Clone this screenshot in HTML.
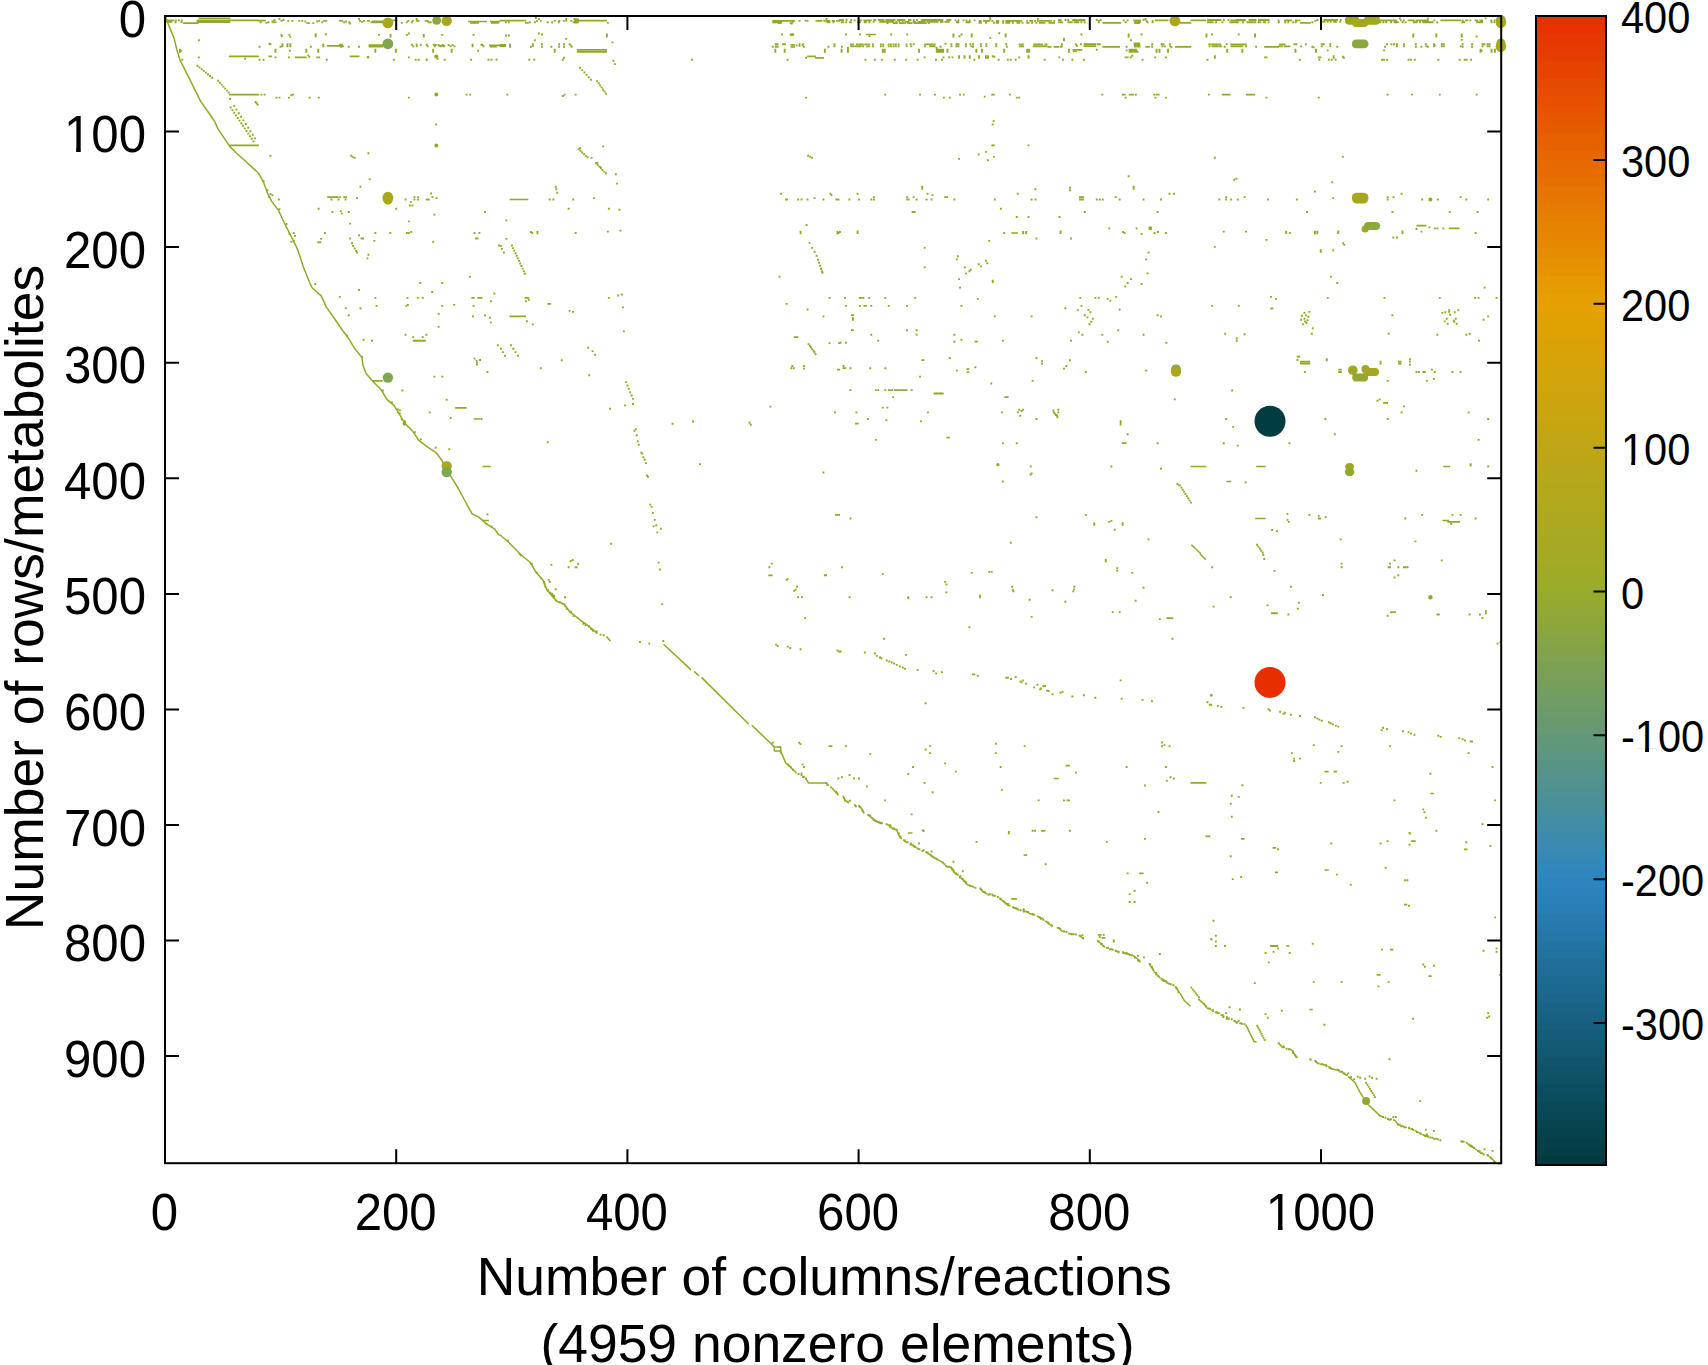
<!DOCTYPE html><html lang="en"><head><meta charset="utf-8"><title>Sparsity plot</title>
<style>html,body{margin:0;padding:0;background:#fff}body{width:1708px;height:1365px;overflow:hidden}svg{display:block}text{font-family:"Liberation Sans",sans-serif;fill:#000}</style></head><body>
<svg width="1708" height="1365" viewBox="0 0 1708 1365">
<rect width="1708" height="1365" fill="#fff"/>
<path d="M198.6 18.4H230.3M196.6 20.5H230.3M196.6 21.3H230.3M196.6 22.1H230.3M165.6 20.4H174.3M165.6 21.9H172.3M183.1 23.1H198.6M229.3 20.4H258.9M258.1 20.6H265.9M370.6 22.3H384.3M371.6 21.3H383.4M468.1 21.5H486.9M470.1 22.9H478.9M490.0 21.5H500.0M491.0 22.9H498.8M388.5 20.4H397.3M326.8 45.8H342.5M368.6 45.0H383.4M368.6 46.6H383.4M438.3 45.8H445.1M489.0 45.4H500.0M490.0 46.6H496.8M228.9 56.4H258.9M295.0 57.4H306.7M349.7 56.4H359.5M228.9 94.6H258.9M228.9 145.4H258.9M327.2 197.1H338.6M499.6 20.6H526.3M574.2 20.6H606.9M573.7 19.4H579.0M573.7 21.7H579.0M574.2 22.7H578.4M772.3 20.9H795.0M772.3 22.3H782.1M499.6 44.8H506.0M499.6 46.2H506.0M576.8 49.8H606.9M576.8 51.8H606.9M790.6 44.8H795.0M790.6 46.8H795.0M807.2 56.4H815.9M815.1 57.8H823.9M509.6 199.5H528.3M1072.5 20.4H1084.3M1102.4 22.9H1121.1M1133.2 20.4H1141.0M1134.2 21.9H1141.0M1134.2 23.1H1140.0M866.1 34.5H875.8M1047.6 46.8H1051.4M1053.6 46.8H1059.4M1083.5 44.2H1096.2M1083.5 46.2H1096.2M1102.4 46.8H1120.1M1145.2 46.8H1149.9M1175.0 46.8H1180.0M1072.5 49.8H1082.3M1011.2 233.0H1018.0M1179.6 22.9H1191.3M1190.5 20.4H1206.3M1230.4 20.4H1246.1M1300.0 22.9H1310.8M1440.4 20.4H1461.1M1179.6 46.8H1191.3M1264.2 46.8H1278.9M1221.8 94.6H1230.6M1245.9 94.6H1255.0M1416.5 225.6H1426.2M1448.7 228.4H1459.5M455.2 407.8H466.6M473.7 419.0H479.9M482.5 466.5H490.8M482.1 520.5H488.9M509.6 316.4H525.9M524.5 297.9H529.3M547.4 303.9H551.2M793.8 337.1H798.4M835.0 514.9H840.0M837.0 369.6H840.0M858.9 297.9H864.3M863.5 305.9H866.9M850.9 315.2H853.9M850.9 330.2H853.9M974.4 341.7H977.8M921.2 360.2H924.4M842.6 368.2H846.0M966.4 369.2H969.4M966.4 372.0H969.4M1004.4 397.1H1008.6M855.1 423.7H858.7M1121.9 443.2H1126.5M946.5 437.7H949.9M1190.5 466.5H1206.3M1256.2 466.5H1265.6M1443.4 466.5H1450.1M1255.2 518.5H1265.6M1226.4 481.5H1231.2M1300.0 361.6H1310.2M1300.0 363.6H1310.2M1296.6 356.6H1300.2M1383.2 402.8H1388.0M1442.4 520.5H1449.1M1447.3 521.9H1460.1M1270.2 308.3H1273.4M768.3 575.3H772.7M887.4 825.1H891.2M1065.5 765.6H1069.9M1053.6 778.5H1058.8M1066.5 800.4H1069.9M1190.5 782.9H1206.3M1324.5 771.6H1328.7M1333.5 771.6H1337.1M1430.4 793.5H1433.8M907.9 833.0H912.5M1041.1 830.8H1045.4M1023.7 855.1H1027.1M1139.2 873.4H1143.6M1011.2 898.9H1017.0M1205.5 836.4H1210.3M1240.9 838.9H1244.5M1411.1 841.1H1415.7M1463.9 849.3H1467.4M1324.5 870.0H1328.7M1274.8 872.4H1277.9M1403.9 904.6H1407.3M1286.1 946.0H1289.5M1390.0 949.6H1393.4M1376.7 974.9H1380.5M1428.4 976.1H1431.6M1309.4 1009.5H1312.8" fill="none" stroke="#95a826" stroke-width="1.70"/>
<polyline points="165.6,17.0 169.0,25.9 173.9,37.9 176.9,49.8 179.9,59.8 187.9,75.7 194.8,89.6 200.8,101.6 207.8,111.5 214.7,121.5 217.7,128.4 223.7,137.4 229.7,146.4 236.6,153.3 245.6,161.3 258.5,173.2 263.5,182.2 267.5,193.1 271.5,201.1 278.4,210.1 282.4,219.0 287.4,229.0 292.4,238.9 297.4,248.9 303.3,266.8 309.3,281.7" fill="none" stroke="#95a826" stroke-width="1.50" stroke-linejoin="round"/>
<polyline points="309.3,282.0 312.3,288.0 321.2,295.9 326.2,306.9 335.2,319.8 342.1,329.8 348.1,337.7 354.1,347.7 362.0,357.6 363.0,365.6 366.0,373.6 373.0,381.5 381.0,389.5 386.9,399.4 393.9,405.4 398.9,413.4 404.8,423.3 412.8,431.3 418.8,440.3 427.7,447.2 436.7,453.2 441.7,460.2 446.7,470.1 452.6,479.1 458.6,489.0 465.6,502.0 472.1,513.9 478.5,516.9 486.5,523.9 494.4,528.8 499.6,535.8" fill="none" stroke="#95a826" stroke-width="1.50" stroke-linejoin="round"/>
<polyline points="500.0,534.8 508.0,541.8 519.9,553.7" fill="none" stroke="#95a826" stroke-width="1.50" stroke-linejoin="round"/>
<polyline points="1191.3,544.8 1200.9,553.7" fill="none" stroke="#95a826" stroke-width="1.50" stroke-linejoin="round"/>
<polyline points="519.9,554.0 529.9,562.0 535.8,571.9 542.8,579.9 546.8,589.8 553.7,597.8 557.7,601.8 563.7,603.8 569.7,611.7 579.6,619.7 589.6,626.7 597.5,633.6" fill="none" stroke="#95a826" stroke-width="1.50" stroke-linejoin="round"/>
<polyline points="606.5,636.6 610.5,641.2" fill="none" stroke="#95a826" stroke-width="1.50" stroke-linejoin="round"/>
<polyline points="663.6,644.2 691.1,669.9" fill="none" stroke="#95a826" stroke-width="1.50" stroke-linejoin="round"/>
<polyline points="694.1,671.4 699.1,675.8" fill="none" stroke="#95a826" stroke-width="1.50" stroke-linejoin="round"/>
<polyline points="701.5,677.4 748.8,724.2" fill="none" stroke="#95a826" stroke-width="1.50" stroke-linejoin="round"/>
<polyline points="751.8,725.2 774.7,747.1" fill="none" stroke="#95a826" stroke-width="1.50" stroke-linejoin="round"/>
<polyline points="773.7,747.1 780.7,747.1 780.7,751.1 774.3,751.1 774.3,747.1" fill="none" stroke="#95a826" stroke-width="1.50" stroke-linejoin="round"/>
<polyline points="780.7,751.1 785.7,763.0 796.6,773.0" fill="none" stroke="#95a826" stroke-width="1.50" stroke-linejoin="round"/>
<polyline points="805.2,777.9 808.5,782.9 826.5,782.9 828.5,785.9" fill="none" stroke="#95a826" stroke-width="1.50" stroke-linejoin="round"/>
<polyline points="832.0,787.9 838.4,795.3" fill="none" stroke="#95a826" stroke-width="1.50" stroke-linejoin="round"/>
<polyline points="843.0,795.9 845.0,800.4 849.0,802.8" fill="none" stroke="#95a826" stroke-width="1.50" stroke-linejoin="round"/>
<polyline points="858.9,806.4 861.5,808.4 863.5,812.4" fill="none" stroke="#95a826" stroke-width="1.50" stroke-linejoin="round"/>
<polyline points="867.5,814.4 871.9,817.8 874.8,820.7 882.8,823.7" fill="none" stroke="#95a826" stroke-width="1.50" stroke-linejoin="round"/>
<polyline points="1199.9,554.0 1205.9,559.6" fill="none" stroke="#95a826" stroke-width="1.50" stroke-linejoin="round"/>
<polyline points="888.8,826.6 896.7,830.0 898.7,835.0 901.7,838.9" fill="none" stroke="#95a826" stroke-width="1.50" stroke-linejoin="round"/>
<polyline points="914.1,846.3 916.6,847.9" fill="none" stroke="#95a826" stroke-width="1.50" stroke-linejoin="round"/>
<polyline points="933.6,857.3 943.5,862.8" fill="none" stroke="#95a826" stroke-width="1.50" stroke-linejoin="round"/>
<polyline points="947.5,866.8 951.5,867.4 954.5,872.8 957.4,874.8" fill="none" stroke="#95a826" stroke-width="1.50" stroke-linejoin="round"/>
<polyline points="961.8,878.2 967.4,884.7 974.4,887.3" fill="none" stroke="#95a826" stroke-width="1.50" stroke-linejoin="round"/>
<polyline points="980.3,888.7 983.3,891.7 987.3,894.1" fill="none" stroke="#95a826" stroke-width="1.50" stroke-linejoin="round"/>
<polyline points="999.3,898.1 1004.2,902.0" fill="none" stroke="#95a826" stroke-width="1.50" stroke-linejoin="round"/>
<polyline points="1013.2,907.2 1019.2,910.0" fill="none" stroke="#95a826" stroke-width="1.50" stroke-linejoin="round"/>
<polyline points="1028.7,913.2 1034.1,915.0" fill="none" stroke="#95a826" stroke-width="1.50" stroke-linejoin="round"/>
<polyline points="1037.1,916.0 1041.1,918.6 1043.4,918.0" fill="none" stroke="#95a826" stroke-width="1.50" stroke-linejoin="round"/>
<polyline points="1046.0,921.2 1051.0,925.5" fill="none" stroke="#95a826" stroke-width="1.50" stroke-linejoin="round"/>
<polyline points="1058.0,927.5 1062.0,931.1 1064.9,931.9" fill="none" stroke="#95a826" stroke-width="1.50" stroke-linejoin="round"/>
<polyline points="1078.9,935.1 1083.9,939.1" fill="none" stroke="#95a826" stroke-width="1.50" stroke-linejoin="round"/>
<polyline points="1096.8,940.5 1100.8,943.4 1104.8,947.4" fill="none" stroke="#95a826" stroke-width="1.50" stroke-linejoin="round"/>
<polyline points="1133.0,955.4 1137.6,959.0 1140.2,962.4" fill="none" stroke="#95a826" stroke-width="1.50" stroke-linejoin="round"/>
<polyline points="1149.1,963.4 1155.5,973.3 1160.5,978.3" fill="none" stroke="#95a826" stroke-width="1.50" stroke-linejoin="round"/>
<polyline points="1175.4,986.2 1179.6,993.2" fill="none" stroke="#95a826" stroke-width="1.50" stroke-linejoin="round"/>
<polyline points="1180.0,993.2 1184.0,1000.2 1190.4,1006.2" fill="none" stroke="#95a826" stroke-width="1.50" stroke-linejoin="round"/>
<polyline points="1198.9,999.2 1206.9,1007.1" fill="none" stroke="#95a826" stroke-width="1.50" stroke-linejoin="round"/>
<polyline points="1233.7,1020.1 1236.7,1022.7 1239.7,1020.1" fill="none" stroke="#95a826" stroke-width="1.50" stroke-linejoin="round"/>
<polyline points="1245.7,1024.7 1254.1,1041.6 1256.6,1042.0" fill="none" stroke="#95a826" stroke-width="1.50" stroke-linejoin="round"/>
<polyline points="1278.5,1043.0 1282.5,1047.4 1284.5,1045.6" fill="none" stroke="#95a826" stroke-width="1.50" stroke-linejoin="round"/>
<polyline points="1291.9,1050.5 1297.4,1057.9" fill="none" stroke="#95a826" stroke-width="1.50" stroke-linejoin="round"/>
<polyline points="1328.3,1066.5 1332.3,1068.9 1339.3,1070.4" fill="none" stroke="#95a826" stroke-width="1.50" stroke-linejoin="round"/>
<polyline points="1344.2,1073.8 1346.8,1075.2 1348.8,1072.4" fill="none" stroke="#95a826" stroke-width="1.50" stroke-linejoin="round"/>
<polyline points="1348.2,1076.4 1355.2,1082.8 1359.2,1090.8 1363.1,1097.1" fill="none" stroke="#95a826" stroke-width="1.50" stroke-linejoin="round"/>
<polyline points="1363.1,1097.5 1366.1,1101.5" fill="none" stroke="#95a826" stroke-width="1.50" stroke-linejoin="round"/>
<polyline points="1368.1,1104.5 1380.1,1115.9" fill="none" stroke="#95a826" stroke-width="1.50" stroke-linejoin="round"/>
<polyline points="1395.0,1120.4 1398.0,1124.4 1402.0,1126.4" fill="none" stroke="#95a826" stroke-width="1.50" stroke-linejoin="round"/>
<polyline points="1414.9,1130.4 1421.9,1134.4" fill="none" stroke="#95a826" stroke-width="1.50" stroke-linejoin="round"/>
<polyline points="1425.2,1135.8 1428.8,1137.0" fill="none" stroke="#95a826" stroke-width="1.50" stroke-linejoin="round"/>
<polyline points="1461.3,1141.3 1464.7,1141.7" fill="none" stroke="#95a826" stroke-width="1.50" stroke-linejoin="round"/>
<polyline points="1469.6,1144.9 1474.6,1148.3" fill="none" stroke="#95a826" stroke-width="1.50" stroke-linejoin="round"/>
<polyline points="1490.5,1157.3 1495.5,1162.2" fill="none" stroke="#95a826" stroke-width="1.50" stroke-linejoin="round"/>
<path d="M175.0 20.4h1.9M178.0 20.4h1.9M180.9 20.4h1.9M174.6 22.3h1.9M180.5 22.3h1.9M259.6 22.3h1.9M265.5 22.9h1.9M267.5 22.3h1.9M271.5 21.5h1.9M273.5 20.0h1.9M274.5 22.3h1.9M272.5 22.3h1.9M278.5 19.0h1.9M280.5 20.9h1.9M282.5 20.0h1.9M287.4 20.9h1.9M291.4 20.9h1.9M298.4 20.9h1.9M301.4 20.9h1.9M304.4 21.5h1.9M306.4 23.1h1.9M307.9 23.1h1.9M312.3 23.1h1.9M316.3 21.5h1.9M318.3 20.9h1.9M321.3 22.3h1.9M323.3 20.9h1.9M325.3 20.9h1.9M339.2 20.9h1.9M341.2 20.9h1.9M343.2 22.3h1.9M345.2 21.5h1.9M348.2 22.3h1.9M349.2 23.5h1.9M358.1 19.0h1.9M359.1 20.9h1.9M361.1 21.9h1.9M363.1 20.9h1.9M367.1 20.9h1.9M368.1 20.9h1.9M400.9 22.9h1.9M405.9 22.3h1.9M407.5 20.9h1.9M410.9 22.3h1.9M411.9 20.9h1.9M415.8 19.0h1.9M415.8 20.9h1.9M417.8 20.9h1.9M424.8 20.9h1.9M426.8 20.9h1.9M427.8 22.3h1.9M429.8 22.3h1.9M322.3 44.8h1.9M322.3 46.4h1.9M339.2 44.8h1.9M341.2 44.8h1.9M342.2 46.4h1.9M340.2 46.8h1.9M410.9 44.8h1.9M412.3 46.4h1.9M415.8 44.8h1.9M415.8 46.4h1.9M419.8 44.8h1.9M425.8 44.8h1.9M426.8 46.4h1.9M432.8 44.8h1.9M433.8 46.4h1.9M434.8 45.0h1.9M437.7 45.0h1.9M439.7 46.4h1.9M441.7 45.0h1.9M442.7 46.4h1.9M447.7 45.0h1.9M449.7 46.4h1.9M451.7 45.0h1.9M453.7 46.4h1.9M471.6 44.8h1.9M471.6 46.4h1.9M480.5 44.8h1.9M482.5 46.4h1.9M481.5 45.0h1.9M244.2 58.8h1.9M258.6 59.8h1.9M262.6 59.8h1.9M268.5 56.4h1.9M270.1 56.4h1.9M274.5 57.4h1.9M288.0 57.4h1.9M307.4 55.4h1.9M308.3 56.8h1.9M316.3 57.4h1.9M318.3 57.4h1.9M325.9 59.8h1.9M392.9 59.8h1.9M407.9 57.4h1.9M414.8 59.8h1.9M417.8 59.8h1.9M436.7 58.8h1.9M443.7 59.8h1.9M470.2 59.8h1.9M487.5 59.8h1.9M490.5 59.8h1.9M495.5 59.8h1.9M260.6 94.6h1.9M263.6 94.6h1.9M275.5 97.6h1.9M278.5 97.6h1.9M288.0 97.6h1.9M290.4 95.2h1.9M292.0 94.6h1.9M308.7 97.6h1.9M317.9 97.6h1.9M407.9 97.6h1.9M465.6 94.6h1.9M469.2 94.6h1.9M229.1 99.0h1.9M254.6 102.0h1.9M256.6 104.6h1.9M255.6 103.2h1.9M196.5 65.7h1.9M198.6 67.4h1.9M200.7 69.2h1.9M202.8 70.9h1.9M204.9 72.6h1.9M207.0 74.3h1.9M209.1 76.0h1.9M211.2 77.7h1.9M217.2 80.7h1.9M218.9 82.7h1.9M220.7 84.6h1.9M222.5 86.6h1.9M224.2 88.6h1.9M226.0 90.6h1.9M227.7 92.6h1.9M229.7 107.5h1.9M231.5 110.1h1.9M233.2 112.7h1.9M235.0 115.4h1.9M236.8 118.0h1.9M238.5 120.6h1.9M240.3 123.2h1.9M242.0 125.8h1.9M243.8 128.4h1.9M245.6 131.0h1.9M247.3 133.6h1.9M249.1 136.2h1.9M250.8 138.8h1.9M252.6 141.4h1.9M233.1 105.9h1.9M235.4 109.6h1.9M237.8 113.2h1.9M240.1 116.8h1.9M242.5 120.4h1.9M244.8 124.0h1.9M247.2 127.6h1.9M249.5 131.2h1.9M251.9 134.8h1.9M254.2 138.4h1.9M197.9 40.3h1.9M197.9 57.4h1.9M180.0 50.8h1.9M179.0 49.8h1.9M179.0 51.8h1.9M181.3 59.8h1.9M280.5 34.9h1.9M280.9 36.3h1.9M288.4 34.9h1.9M289.4 36.9h1.9M314.7 34.3h1.9M314.7 36.3h1.9M324.9 34.3h1.9M378.0 34.9h1.9M389.6 34.9h1.9M389.6 36.5h1.9M405.9 34.9h1.9M407.9 33.5h1.9M422.8 34.9h1.9M422.8 36.5h1.9M441.3 34.9h1.9M472.6 34.9h1.9M258.6 46.8h1.9M268.5 43.8h1.9M269.5 44.2h1.9M274.5 49.8h1.9M274.5 51.8h1.9M279.5 46.8h1.9M281.5 44.2h1.9M281.5 46.2h1.9M286.5 44.2h1.9M286.5 46.2h1.9M289.4 44.2h1.9M289.4 46.2h1.9M288.8 50.8h1.9M305.4 49.8h1.9M305.4 51.8h1.9M309.9 46.8h1.9M317.3 49.8h1.9M317.3 51.8h1.9M347.8 46.8h1.9M358.1 46.8h1.9M374.4 49.8h1.9M374.4 51.8h1.9M394.9 49.8h1.9M394.9 51.8h1.9M432.2 49.8h1.9M432.2 51.8h1.9M450.7 49.8h1.9M450.7 51.8h1.9M477.2 50.8h1.9M269.5 155.7h1.9M350.2 155.7h1.9M351.7 156.9h1.9M353.7 157.9h1.9M367.5 153.3h1.9M368.7 179.2h1.9M359.5 186.8h1.9M435.3 124.5h1.9M339.2 197.1h1.9M343.2 197.1h1.9M345.2 197.1h1.9M330.6 199.5h1.9M337.6 199.5h1.9M344.6 199.5h1.9M356.1 198.1h1.9M404.5 199.5h1.9M409.9 202.1h1.9M413.5 197.1h1.9M413.5 199.5h1.9M417.2 197.1h1.9M417.2 199.5h1.9M408.9 205.5h1.9M411.5 205.5h1.9M425.8 199.5h1.9M427.8 199.5h1.9M430.2 193.5h1.9M431.4 197.1h1.9M435.7 198.1h1.9M277.9 199.5h1.9M269.5 194.1h1.9M271.5 195.1h1.9M317.7 208.7h1.9M331.6 212.0h1.9M339.8 211.1h1.9M340.8 213.4h1.9M347.8 212.0h1.9M395.3 208.7h1.9M433.4 214.6h1.9M484.1 212.0h1.9M349.2 223.6h1.9M407.9 221.4h1.9M323.9 233.0h1.9M374.4 233.0h1.9M389.4 233.0h1.9M405.9 233.0h1.9M407.9 233.0h1.9M410.3 232.0h1.9M473.6 233.0h1.9M478.5 233.0h1.9M358.1 235.3h1.9M360.5 238.5h1.9M362.1 238.5h1.9M349.2 238.5h1.9M373.4 240.9h1.9M432.2 241.9h1.9M475.2 238.5h1.9M476.6 238.5h1.9M320.3 238.9h1.9M317.3 242.3h1.9M319.3 242.3h1.9M351.1 243.3h1.9M352.1 245.9h1.9M353.7 248.5h1.9M355.1 250.9h1.9M356.1 252.5h1.9M367.5 254.8h1.9M366.5 258.4h1.9M498.1 245.5h1.9M469.0 276.7h1.9M292.8 233.0h1.9M294.0 235.9h1.9M292.8 240.9h1.9M285.5 224.0h1.9M266.5 190.2h1.9M268.1 197.1h1.9M278.5 209.1h1.9M262.6 181.2h1.9M288.4 233.9h1.9M290.4 241.9h1.9M505.0 22.3h1.9M508.0 22.3h1.9M524.9 22.9h1.9M526.9 22.9h1.9M528.9 22.3h1.9M533.9 22.3h1.9M535.9 20.9h1.9M537.9 19.0h1.9M539.9 20.9h1.9M534.9 18.0h1.9M546.8 22.3h1.9M551.2 22.3h1.9M553.8 20.9h1.9M557.8 22.3h1.9M558.4 20.9h1.9M562.8 20.9h1.9M565.3 19.0h1.9M565.3 20.9h1.9M570.3 20.9h1.9M572.7 22.3h1.9M573.7 19.0h1.9M606.9 22.9h1.9M772.8 22.3h1.9M777.7 23.1h1.9M779.7 23.1h1.9M789.7 23.1h1.9M791.7 22.3h1.9M790.7 23.5h1.9M798.6 20.9h1.9M804.6 20.6h1.9M806.6 20.9h1.9M825.5 19.0h1.9M826.5 22.3h1.9M828.5 22.3h1.9M832.5 22.3h1.9M825.5 20.0h1.9M815.5 20.9h1.9M816.9 20.9h1.9M818.7 20.9h1.9M820.4 20.9h1.9M823.3 20.9h1.9M825.3 20.9h1.9M826.7 20.9h1.9M828.3 20.9h1.9M831.7 20.9h1.9M833.0 20.9h1.9M836.1 20.9h1.9M838.0 20.9h1.9M781.1 34.5h1.9M509.0 44.8h1.9M509.0 46.8h1.9M529.9 46.8h1.9M531.9 44.2h1.9M531.9 45.8h1.9M540.9 44.2h1.9M540.9 46.8h1.9M550.4 46.8h1.9M553.8 49.8h1.9M553.8 51.8h1.9M558.2 44.2h1.9M558.2 46.8h1.9M563.1 44.2h1.9M563.1 46.8h1.9M568.7 44.2h1.9M570.7 46.8h1.9M569.7 45.4h1.9M505.0 35.5h1.9M508.0 35.5h1.9M537.9 33.5h1.9M540.9 34.5h1.9M533.9 40.3h1.9M565.3 38.9h1.9M605.9 34.5h1.9M605.9 36.5h1.9M611.5 42.4h1.9M528.3 59.8h1.9M533.3 59.8h1.9M561.8 59.8h1.9M563.1 57.8h1.9M612.5 60.8h1.9M613.9 64.1h1.9M691.1 59.8h1.9M771.8 46.8h1.9M774.8 44.2h1.9M774.8 46.8h1.9M776.7 44.2h1.9M776.7 46.8h1.9M774.4 49.8h1.9M774.4 51.8h1.9M782.1 44.2h1.9M784.1 44.2h1.9M783.7 49.8h1.9M783.7 51.8h1.9M795.7 45.4h1.9M798.6 44.2h1.9M798.6 45.8h1.9M802.0 44.2h1.9M803.0 46.8h1.9M801.6 45.4h1.9M823.9 49.8h1.9M823.9 51.8h1.9M827.5 46.8h1.9M833.5 44.2h1.9M833.5 46.2h1.9M786.7 59.8h1.9M805.2 57.8h1.9M579.1 67.7h1.9M581.3 70.1h1.9M583.5 72.5h1.9M585.6 74.9h1.9M587.8 77.3h1.9M590.0 79.7h1.9M596.2 81.3h1.9M597.7 83.3h1.9M599.1 85.4h1.9M600.6 87.4h1.9M602.0 89.5h1.9M603.5 91.5h1.9M605.0 93.6h1.9M506.4 94.6h1.9M561.8 96.0h1.9M563.7 94.6h1.9M574.7 94.6h1.9M805.2 97.6h1.9M577.7 149.3h1.9M579.5 150.9h1.9M581.3 152.5h1.9M583.1 154.1h1.9M584.8 155.7h1.9M586.6 157.3h1.9M579.1 148.3h1.9M590.6 157.9h1.9M602.2 146.4h1.9M596.6 162.9h1.9M599.6 167.3h1.9M614.9 174.2h1.9M616.1 183.6h1.9M595.0 163.3h1.9M596.7 164.9h1.9M598.3 166.6h1.9M600.0 168.3h1.9M601.6 169.9h1.9M603.3 171.6h1.9M605.0 173.2h1.9M554.8 186.8h1.9M555.4 189.2h1.9M556.2 192.7h1.9M548.8 199.5h1.9M552.4 199.5h1.9M572.3 199.5h1.9M593.0 198.1h1.9M567.7 208.7h1.9M607.9 208.7h1.9M618.5 209.7h1.9M505.4 220.4h1.9M529.9 232.0h1.9M531.3 233.0h1.9M536.5 232.0h1.9M536.5 233.3h1.9M574.7 233.0h1.9M606.9 231.6h1.9M619.5 230.6h1.9M505.4 238.9h1.9M500.0 245.9h1.9M501.0 248.9h1.9M503.0 252.5h1.9M511.0 245.5h1.9M512.2 248.1h1.9M513.3 250.6h1.9M514.5 253.2h1.9M515.7 255.8h1.9M516.9 258.3h1.9M518.1 260.9h1.9M519.2 263.5h1.9M520.4 266.0h1.9M521.6 268.6h1.9M522.8 271.2h1.9M523.9 273.8h1.9M780.1 193.7h1.9M829.5 193.7h1.9M830.5 195.1h1.9M785.1 199.5h1.9M786.1 199.5h1.9M797.2 199.5h1.9M800.6 199.5h1.9M806.6 199.5h1.9M813.6 198.1h1.9M822.5 199.5h1.9M835.5 199.5h1.9M837.5 199.5h1.9M807.2 155.7h1.9M809.2 156.9h1.9M811.2 157.9h1.9M805.6 225.0h1.9M799.6 231.6h1.9M799.6 233.3h1.9M836.5 232.0h1.9M837.5 233.0h1.9M836.5 233.3h1.9M778.7 276.7h1.9M808.6 242.9h1.9M811.2 247.9h1.9M813.6 251.9h1.9M815.6 255.8h1.9M817.0 259.8h1.9M818.1 262.8h1.9M819.1 265.8h1.9M820.1 268.8h1.9M821.1 271.2h1.9M821.5 272.8h1.9M838.9 20.0h1.9M840.6 20.0h1.9M842.0 20.0h1.9M845.6 20.0h1.9M850.2 20.0h1.9M840.7 22.3h1.9M842.2 22.3h1.9M845.2 22.3h1.9M848.9 22.3h1.9M849.9 22.3h1.9M853.7 20.4h1.9M857.3 20.4h1.9M859.0 20.4h1.9M860.3 20.4h1.9M863.3 20.4h1.9M865.1 20.4h1.9M866.6 20.4h1.9M868.0 20.4h1.9M869.9 20.4h1.9M857.0 22.3h1.9M858.8 22.3h1.9M863.8 22.3h1.9M864.9 22.3h1.9M868.4 22.3h1.9M873.2 20.0h1.9M874.4 20.0h1.9M877.8 20.0h1.9M879.2 20.0h1.9M880.9 20.0h1.9M882.6 20.0h1.9M885.4 20.0h1.9M887.2 20.0h1.9M889.1 20.0h1.9M890.7 20.0h1.9M891.8 20.0h1.9M893.6 20.0h1.9M896.7 20.0h1.9M898.4 20.0h1.9M900.1 20.0h1.9M901.7 20.0h1.9M903.4 20.0h1.9M907.9 20.0h1.9M909.5 20.0h1.9M912.9 20.0h1.9M916.0 20.0h1.9M920.8 20.0h1.9M922.4 20.0h1.9M923.8 20.0h1.9M925.5 20.0h1.9M927.1 20.0h1.9M928.5 20.0h1.9M930.3 20.0h1.9M931.9 20.0h1.9M933.2 20.0h1.9M934.8 20.0h1.9M936.6 20.0h1.9M938.0 20.0h1.9M939.9 20.0h1.9M941.4 20.0h1.9M946.3 20.0h1.9M947.8 20.0h1.9M949.4 20.0h1.9M872.7 21.9h1.9M879.3 21.9h1.9M880.7 21.9h1.9M882.5 21.9h1.9M883.8 21.9h1.9M885.8 21.9h1.9M887.3 21.9h1.9M888.7 21.9h1.9M890.5 21.9h1.9M892.2 21.9h1.9M895.3 21.9h1.9M898.3 21.9h1.9M901.7 21.9h1.9M904.5 21.9h1.9M906.4 21.9h1.9M907.7 21.9h1.9M912.6 21.9h1.9M914.2 21.9h1.9M917.5 21.9h1.9M919.0 21.9h1.9M920.7 21.9h1.9M922.1 21.9h1.9M923.8 21.9h1.9M926.7 21.9h1.9M928.8 21.9h1.9M929.9 21.9h1.9M931.7 21.9h1.9M933.7 21.9h1.9M935.1 21.9h1.9M936.7 21.9h1.9M939.8 21.9h1.9M941.6 21.9h1.9M944.4 21.9h1.9M946.1 21.9h1.9M947.7 21.9h1.9M886.5 23.1h1.9M892.7 23.1h1.9M894.1 23.1h1.9M895.9 23.1h1.9M899.1 23.1h1.9M901.0 23.1h1.9M902.1 23.1h1.9M904.2 23.1h1.9M907.2 23.1h1.9M908.6 23.1h1.9M910.5 23.1h1.9M913.4 23.1h1.9M914.9 23.1h1.9M916.7 23.1h1.9M918.4 23.1h1.9M919.7 23.1h1.9M921.3 23.1h1.9M922.8 23.1h1.9M924.9 23.1h1.9M927.9 23.1h1.9M954.6 20.4h1.9M957.5 20.4h1.9M962.6 20.4h1.9M965.5 20.4h1.9M968.7 20.4h1.9M973.7 20.4h1.9M956.0 22.3h1.9M957.4 22.3h1.9M965.7 22.3h1.9M967.0 22.3h1.9M968.8 22.3h1.9M978.7 20.9h1.9M979.8 20.9h1.9M982.9 20.9h1.9M984.7 20.9h1.9M986.3 20.9h1.9M988.2 20.9h1.9M991.4 20.9h1.9M995.9 20.9h1.9M997.3 20.9h1.9M1002.3 20.9h1.9M1005.4 20.9h1.9M1007.0 20.9h1.9M1008.8 20.9h1.9M1010.0 20.9h1.9M1011.9 20.9h1.9M1013.7 20.9h1.9M1014.8 20.9h1.9M1016.7 20.9h1.9M1018.1 20.9h1.9M1020.0 20.9h1.9M978.6 22.7h1.9M979.8 22.7h1.9M985.0 22.7h1.9M993.0 22.7h1.9M995.7 22.7h1.9M997.3 22.7h1.9M1002.2 22.7h1.9M1005.4 22.7h1.9M1006.8 22.7h1.9M1008.4 22.7h1.9M1011.8 22.7h1.9M1016.4 22.7h1.9M1018.3 22.7h1.9M1021.5 22.7h1.9M989.3 18.0h1.9M989.3 19.4h1.9M1037.1 19.0h1.9M1026.2 20.9h1.9M1029.3 20.9h1.9M1031.1 20.9h1.9M1034.1 20.9h1.9M1037.0 20.9h1.9M1039.1 20.9h1.9M1040.5 20.9h1.9M1041.8 20.9h1.9M1043.8 20.9h1.9M1045.3 20.9h1.9M1046.8 20.9h1.9M1048.2 20.9h1.9M1050.0 20.9h1.9M1053.3 20.9h1.9M1026.3 22.9h1.9M1027.7 22.9h1.9M1031.1 22.9h1.9M1035.5 22.9h1.9M1038.9 22.9h1.9M1040.6 22.9h1.9M1042.2 22.9h1.9M1043.5 22.9h1.9M1048.5 22.9h1.9M1050.1 22.9h1.9M1051.7 22.9h1.9M1053.1 22.9h1.9M1058.1 20.0h1.9M1059.7 20.0h1.9M1064.5 20.0h1.9M1067.3 20.0h1.9M1072.3 20.0h1.9M1073.8 20.0h1.9M1075.5 20.0h1.9M1078.5 20.0h1.9M1080.4 20.0h1.9M1082.1 20.0h1.9M1083.4 20.0h1.9M1058.2 22.3h1.9M1059.4 22.3h1.9M1061.1 22.3h1.9M1067.4 22.3h1.9M1069.4 22.3h1.9M1070.8 22.3h1.9M1073.8 22.3h1.9M1075.7 22.3h1.9M1077.3 22.3h1.9M1080.4 22.3h1.9M1083.7 22.3h1.9M1095.8 20.0h1.9M1097.8 20.9h1.9M1099.8 20.0h1.9M1097.8 22.3h1.9M1122.7 20.4h1.9M1124.7 22.3h1.9M1126.7 20.4h1.9M1142.6 20.0h1.9M1144.6 19.0h1.9M1145.6 20.9h1.9M1146.6 22.3h1.9M1151.6 20.9h1.9M1151.6 22.3h1.9M1155.1 20.4h1.9M1156.5 20.4h1.9M1158.2 20.4h1.9M1159.7 20.4h1.9M1161.5 20.4h1.9M1162.9 20.4h1.9M1164.8 20.4h1.9M1166.6 20.4h1.9M1169.5 20.4h1.9M845.0 34.5h1.9M859.0 34.5h1.9M868.5 36.3h1.9M890.2 34.5h1.9M906.3 34.5h1.9M952.5 34.5h1.9M952.5 36.5h1.9M958.5 36.3h1.9M960.5 34.5h1.9M970.8 34.5h1.9M970.8 36.5h1.9M989.3 37.9h1.9M998.3 33.3h1.9M1004.7 34.5h1.9M1004.7 36.5h1.9M1080.5 34.5h1.9M1063.0 38.9h1.9M1063.0 40.3h1.9M1127.7 34.5h1.9M1127.7 36.5h1.9M1130.1 40.3h1.9M1140.6 34.5h1.9M841.0 46.8h1.9M847.0 47.8h1.9M850.1 44.4h1.9M852.1 44.4h1.9M856.0 44.4h1.9M858.2 44.4h1.9M859.8 44.4h1.9M861.8 44.4h1.9M864.2 44.4h1.9M865.9 44.4h1.9M868.2 44.4h1.9M850.1 46.4h1.9M852.1 46.4h1.9M854.2 46.4h1.9M856.2 46.4h1.9M858.1 46.4h1.9M859.8 46.4h1.9M862.1 46.4h1.9M866.2 46.4h1.9M868.0 46.4h1.9M872.0 44.4h1.9M879.9 44.4h1.9M882.2 44.4h1.9M887.7 44.4h1.9M890.0 44.4h1.9M892.6 44.4h1.9M894.9 44.4h1.9M897.6 44.4h1.9M905.7 44.4h1.9M872.0 46.4h1.9M879.9 46.4h1.9M882.2 46.4h1.9M887.7 46.4h1.9M890.0 46.4h1.9M892.6 46.4h1.9M894.9 46.4h1.9M897.6 46.4h1.9M905.7 46.4h1.9M909.7 44.2h1.9M910.3 46.4h1.9M912.7 44.2h1.9M924.2 44.4h1.9M925.9 44.4h1.9M927.5 44.4h1.9M929.3 44.4h1.9M930.6 44.4h1.9M932.0 44.4h1.9M933.7 44.4h1.9M924.0 46.4h1.9M929.2 46.4h1.9M930.4 46.4h1.9M932.0 46.4h1.9M933.6 46.4h1.9M935.6 47.8h1.9M939.6 46.8h1.9M944.6 43.8h1.9M950.5 44.2h1.9M950.5 46.4h1.9M955.5 44.2h1.9M955.5 46.4h1.9M957.5 44.2h1.9M957.5 46.4h1.9M964.9 44.2h1.9M964.9 46.4h1.9M969.4 44.2h1.9M970.4 46.4h1.9M972.0 44.2h1.9M972.0 46.8h1.9M980.0 44.2h1.9M980.0 46.4h1.9M985.4 44.2h1.9M985.4 46.4h1.9M995.3 44.2h1.9M995.3 46.4h1.9M1005.3 44.2h1.9M1005.9 46.8h1.9M1018.6 44.4h1.9M1020.7 44.4h1.9M1021.8 44.4h1.9M1019.1 46.4h1.9M1020.4 46.4h1.9M1022.3 46.4h1.9M1033.3 44.4h1.9M1034.7 44.4h1.9M1036.1 44.4h1.9M1037.8 44.4h1.9M1039.3 44.4h1.9M1041.3 44.4h1.9M1044.5 44.4h1.9M1045.6 44.4h1.9M1032.9 46.4h1.9M1034.6 46.4h1.9M1036.5 46.4h1.9M1038.0 46.4h1.9M1039.3 46.4h1.9M1040.9 46.4h1.9M1042.8 46.4h1.9M1044.3 46.4h1.9M1045.6 46.4h1.9M1060.0 46.8h1.9M1061.0 44.2h1.9M1061.0 46.4h1.9M1074.9 44.2h1.9M1075.9 45.8h1.9M1079.9 44.2h1.9M1096.8 44.2h1.9M1098.8 44.2h1.9M1125.7 46.8h1.9M1133.6 43.4h1.9M1135.1 43.4h1.9M1136.8 43.4h1.9M1138.2 43.4h1.9M1133.7 45.0h1.9M1135.1 45.0h1.9M1136.8 45.0h1.9M1138.5 45.0h1.9M1134.0 46.6h1.9M1135.0 46.6h1.9M1137.1 46.6h1.9M1138.7 46.6h1.9M1151.2 44.2h1.9M1151.2 46.8h1.9M1160.5 44.2h1.9M1162.5 44.2h1.9M1161.5 46.4h1.9M1163.9 46.4h1.9M1168.9 44.2h1.9M1169.5 46.4h1.9M1170.5 47.4h1.9M840.6 49.8h1.9M840.6 51.8h1.9M847.0 49.8h1.9M847.0 51.8h1.9M881.8 49.8h1.9M883.8 49.8h1.9M881.8 51.8h1.9M883.8 51.8h1.9M918.1 49.8h1.9M918.1 51.8h1.9M946.5 49.8h1.9M946.5 51.8h1.9M975.4 49.8h1.9M975.4 51.8h1.9M981.0 49.8h1.9M981.0 51.8h1.9M1003.3 49.8h1.9M1003.3 51.8h1.9M1026.2 49.8h1.9M1028.2 49.8h1.9M1026.2 51.8h1.9M1028.2 51.8h1.9M1068.0 49.8h1.9M1068.0 51.8h1.9M1072.9 51.4h1.9M1074.9 51.4h1.9M1095.8 49.8h1.9M1125.7 50.4h1.9M1155.6 49.8h1.9M1158.5 49.8h1.9M1155.6 51.8h1.9M1158.5 51.8h1.9M1167.1 49.8h1.9M1167.1 51.8h1.9M935.9 49.8h1.9M937.2 49.8h1.9M938.9 49.8h1.9M940.5 49.8h1.9M942.2 49.8h1.9M935.8 51.8h1.9M937.4 51.8h1.9M938.5 51.8h1.9M940.4 51.8h1.9M942.1 51.8h1.9M1128.6 49.8h1.9M1130.4 49.8h1.9M1131.9 49.8h1.9M1133.2 49.8h1.9M1135.1 49.8h1.9M1128.7 51.8h1.9M1130.3 51.8h1.9M1131.6 51.8h1.9M1133.7 51.8h1.9M1135.1 51.8h1.9M1136.5 51.8h1.9M864.5 59.8h1.9M873.9 59.8h1.9M880.9 59.8h1.9M893.8 59.8h1.9M905.3 59.8h1.9M916.7 59.8h1.9M923.7 57.4h1.9M935.0 59.8h1.9M941.0 59.8h1.9M942.6 57.4h1.9M948.1 57.4h1.9M951.5 57.4h1.9M958.1 56.2h1.9M958.1 57.8h1.9M963.5 56.2h1.9M963.5 57.8h1.9M968.8 56.2h1.9M968.8 57.8h1.9M973.4 59.8h1.9M978.0 56.2h1.9M978.0 57.8h1.9M985.0 56.2h1.9M987.0 56.2h1.9M985.0 57.8h1.9M987.0 57.8h1.9M991.9 56.2h1.9M993.3 56.8h1.9M997.7 59.8h1.9M1006.9 59.8h1.9M1009.8 59.8h1.9M1014.6 59.8h1.9M1018.2 57.4h1.9M1027.6 56.2h1.9M1027.6 57.8h1.9M1043.7 59.8h1.9M1058.4 57.4h1.9M1062.0 59.8h1.9M1071.4 59.8h1.9M1082.9 59.8h1.9M1124.7 57.4h1.9M1126.7 57.4h1.9M1129.7 57.4h1.9M1131.3 55.8h1.9M1141.6 59.8h1.9M1154.2 57.4h1.9M1164.9 57.4h1.9M884.4 94.6h1.9M919.1 94.6h1.9M934.0 94.6h1.9M943.0 97.6h1.9M948.9 97.6h1.9M959.1 94.6h1.9M962.9 94.6h1.9M983.8 96.6h1.9M991.3 94.6h1.9M992.9 94.6h1.9M1008.9 94.6h1.9M1015.8 97.6h1.9M1018.2 97.6h1.9M1101.4 94.6h1.9M1121.7 94.6h1.9M1123.7 94.6h1.9M1124.7 97.6h1.9M1153.2 94.6h1.9M1155.6 94.6h1.9M1157.6 94.6h1.9M1154.6 97.6h1.9M1164.9 97.6h1.9M1128.7 94.6h1.9M1130.4 94.6h1.9M1131.9 94.6h1.9M1134.9 94.6h1.9M992.7 120.9h1.9M991.7 124.5h1.9M991.3 145.4h1.9M992.9 145.4h1.9M1027.6 145.4h1.9M985.0 151.9h1.9M977.8 154.5h1.9M992.9 156.9h1.9M987.0 160.3h1.9M958.1 158.9h1.9M1127.7 176.2h1.9M1132.7 186.8h1.9M1132.7 188.8h1.9M1069.0 187.8h1.9M1069.0 190.2h1.9M1034.5 189.2h1.9M921.3 186.8h1.9M921.3 188.8h1.9M856.6 193.7h1.9M848.4 199.5h1.9M858.0 199.5h1.9M870.3 199.5h1.9M872.9 197.1h1.9M872.9 199.5h1.9M906.3 197.1h1.9M906.3 199.5h1.9M907.7 199.5h1.9M912.7 197.1h1.9M915.7 199.5h1.9M926.6 193.7h1.9M931.6 195.1h1.9M925.6 199.5h1.9M930.6 199.5h1.9M944.2 197.1h1.9M946.1 197.1h1.9M953.5 199.5h1.9M993.9 199.5h1.9M1016.8 193.7h1.9M1030.7 199.5h1.9M1034.5 199.5h1.9M1095.8 199.5h1.9M1098.8 199.5h1.9M1101.8 199.5h1.9M1114.8 197.1h1.9M1118.7 199.5h1.9M1142.6 199.5h1.9M1160.1 199.5h1.9M1168.5 193.7h1.9M1173.1 193.7h1.9M1079.0 197.1h1.9M1080.2 197.1h1.9M1082.1 197.1h1.9M1079.0 199.5h1.9M1080.5 199.5h1.9M1081.9 199.5h1.9M999.9 208.7h1.9M911.7 212.0h1.9M913.7 212.0h1.9M1083.9 212.0h1.9M1156.6 212.0h1.9M1015.8 217.0h1.9M1027.6 217.0h1.9M1058.6 217.0h1.9M839.0 232.0h1.9M856.6 231.4h1.9M856.6 233.0h1.9M1003.3 233.0h1.9M1022.2 232.0h1.9M1025.2 232.0h1.9M1022.2 233.3h1.9M1025.2 233.3h1.9M1059.6 231.4h1.9M1059.6 233.0h1.9M1108.4 228.4h1.9M1122.1 232.0h1.9M1123.7 233.0h1.9M1135.7 228.4h1.9M1140.6 233.9h1.9M1148.6 227.4h1.9M1150.0 227.4h1.9M1148.6 229.0h1.9M1150.0 229.0h1.9M1153.6 233.0h1.9M1157.0 232.0h1.9M1164.9 233.0h1.9M1035.5 238.5h1.9M1070.0 238.5h1.9M988.3 240.9h1.9M923.7 247.9h1.9M1147.6 252.5h1.9M1145.2 259.4h1.9M956.9 256.2h1.9M955.9 259.4h1.9M985.0 260.8h1.9M986.4 263.2h1.9M977.8 264.2h1.9M980.0 266.4h1.9M963.9 267.4h1.9M969.8 269.8h1.9M968.4 271.2h1.9M965.1 273.4h1.9M923.7 267.4h1.9M958.1 279.1h1.9M991.7 280.7h1.9M1146.6 273.4h1.9M1120.7 276.7h1.9M1130.1 279.1h1.9M1207.1 20.0h1.9M1208.7 20.0h1.9M1209.8 20.0h1.9M1211.7 20.0h1.9M1213.0 20.0h1.9M1215.0 20.0h1.9M1216.5 20.0h1.9M1217.8 20.0h1.9M1219.5 20.0h1.9M1222.9 20.0h1.9M1227.6 20.0h1.9M1235.6 20.0h1.9M1237.2 20.0h1.9M1238.8 20.0h1.9M1240.6 20.0h1.9M1241.7 20.0h1.9M1243.3 20.0h1.9M1248.6 20.0h1.9M1249.8 20.0h1.9M1251.7 20.0h1.9M1253.2 20.0h1.9M1254.7 20.0h1.9M1258.0 20.0h1.9M1259.7 20.0h1.9M1261.1 20.0h1.9M1262.8 20.0h1.9M1264.4 20.0h1.9M1266.0 20.0h1.9M1267.7 20.0h1.9M1207.0 22.3h1.9M1208.5 22.3h1.9M1210.2 22.3h1.9M1211.7 22.3h1.9M1215.1 22.3h1.9M1221.5 22.3h1.9M1229.4 22.3h1.9M1231.0 22.3h1.9M1232.5 22.3h1.9M1234.0 22.3h1.9M1235.8 22.3h1.9M1236.9 22.3h1.9M1242.1 22.3h1.9M1246.6 22.3h1.9M1248.6 22.3h1.9M1249.9 22.3h1.9M1251.3 22.3h1.9M1253.4 22.3h1.9M1254.5 22.3h1.9M1257.6 22.3h1.9M1259.4 22.3h1.9M1262.8 22.3h1.9M1264.2 22.3h1.9M1267.6 22.3h1.9M1277.6 20.4h1.9M1284.1 20.4h1.9M1285.8 20.4h1.9M1287.3 20.4h1.9M1288.9 20.4h1.9M1290.3 20.4h1.9M1294.9 20.4h1.9M1296.4 20.4h1.9M1298.5 20.4h1.9M1277.9 22.3h1.9M1284.1 22.3h1.9M1287.3 22.3h1.9M1292.2 22.3h1.9M1294.9 22.3h1.9M1311.4 22.3h1.9M1314.4 20.9h1.9M1316.4 20.0h1.9M1399.0 18.4h1.9M1426.9 18.4h1.9M1484.6 18.4h1.9M1320.4 20.0h1.9M1323.4 20.0h1.9M1325.1 20.0h1.9M1326.7 20.0h1.9M1328.6 20.0h1.9M1330.0 20.0h1.9M1331.6 20.0h1.9M1333.1 20.0h1.9M1334.6 20.0h1.9M1336.2 20.0h1.9M1339.7 20.0h1.9M1322.2 21.9h1.9M1323.6 21.9h1.9M1326.8 21.9h1.9M1329.8 21.9h1.9M1333.1 21.9h1.9M1335.0 21.9h1.9M1339.4 21.9h1.9M1378.9 20.4h1.9M1380.5 20.4h1.9M1382.2 20.4h1.9M1384.0 20.4h1.9M1385.6 20.4h1.9M1387.4 20.4h1.9M1388.4 20.4h1.9M1390.3 20.4h1.9M1392.0 20.4h1.9M1393.2 20.4h1.9M1395.0 20.4h1.9M1399.9 20.4h1.9M1402.9 20.4h1.9M1407.6 20.4h1.9M1409.3 20.4h1.9M1411.1 20.4h1.9M1412.6 20.4h1.9M1415.5 20.4h1.9M1417.2 20.4h1.9M1418.9 20.4h1.9M1420.7 20.4h1.9M1422.4 20.4h1.9M1423.7 20.4h1.9M1425.1 20.4h1.9M1426.9 20.4h1.9M1433.4 20.4h1.9M1379.3 22.3h1.9M1382.4 22.3h1.9M1385.2 22.3h1.9M1390.2 22.3h1.9M1393.6 22.3h1.9M1395.2 22.3h1.9M1396.8 22.3h1.9M1401.7 22.3h1.9M1404.6 22.3h1.9M1412.8 22.3h1.9M1413.9 22.3h1.9M1415.8 22.3h1.9M1419.2 22.3h1.9M1422.3 22.3h1.9M1423.9 22.3h1.9M1425.4 22.3h1.9M1426.8 22.3h1.9M1428.6 22.3h1.9M1430.0 22.3h1.9M1431.7 22.3h1.9M1436.2 22.3h1.9M1461.7 20.4h1.9M1464.9 20.4h1.9M1466.5 20.4h1.9M1469.4 20.4h1.9M1474.7 20.4h1.9M1476.3 20.4h1.9M1479.5 20.4h1.9M1481.1 20.4h1.9M1490.3 20.4h1.9M1493.7 20.4h1.9M1461.4 22.3h1.9M1463.1 22.3h1.9M1476.1 22.3h1.9M1477.7 22.3h1.9M1479.3 22.3h1.9M1481.1 22.3h1.9M1490.6 22.3h1.9M1493.4 22.3h1.9M1205.5 34.5h1.9M1205.5 36.5h1.9M1210.9 34.5h1.9M1237.8 34.5h1.9M1254.1 34.5h1.9M1254.1 36.5h1.9M1412.4 34.5h1.9M1412.4 36.5h1.9M1435.4 34.5h1.9M1435.4 36.5h1.9M1460.7 34.5h1.9M1460.7 36.5h1.9M1460.7 39.9h1.9M1475.7 36.5h1.9M1208.3 44.4h1.9M1210.4 44.4h1.9M1212.0 44.4h1.9M1213.4 44.4h1.9M1214.8 44.4h1.9M1216.5 44.4h1.9M1218.2 44.4h1.9M1219.4 44.4h1.9M1208.7 46.4h1.9M1211.7 46.4h1.9M1213.5 46.4h1.9M1214.8 46.4h1.9M1216.2 46.4h1.9M1218.3 46.4h1.9M1219.9 46.4h1.9M1223.8 46.8h1.9M1225.8 44.2h1.9M1255.1 46.8h1.9M1230.3 44.4h1.9M1231.8 44.4h1.9M1233.5 44.4h1.9M1235.4 44.4h1.9M1236.6 44.4h1.9M1238.3 44.4h1.9M1239.8 44.4h1.9M1241.7 44.4h1.9M1243.4 44.4h1.9M1244.8 44.4h1.9M1230.6 46.4h1.9M1231.9 46.4h1.9M1233.6 46.4h1.9M1235.4 46.4h1.9M1236.6 46.4h1.9M1238.5 46.4h1.9M1240.2 46.4h1.9M1241.4 46.4h1.9M1245.0 46.4h1.9M1279.2 44.4h1.9M1280.6 44.4h1.9M1282.3 44.4h1.9M1283.7 44.4h1.9M1277.8 46.4h1.9M1279.0 46.4h1.9M1281.0 46.4h1.9M1283.9 46.4h1.9M1285.5 46.4h1.9M1287.1 46.4h1.9M1288.5 46.4h1.9M1293.5 44.2h1.9M1295.5 44.2h1.9M1300.1 46.4h1.9M1304.9 44.2h1.9M1311.4 46.8h1.9M1312.8 47.4h1.9M1320.8 44.2h1.9M1322.8 44.2h1.9M1320.8 46.4h1.9M1329.3 44.2h1.9M1329.3 46.4h1.9M1336.3 46.8h1.9M1384.1 46.8h1.9M1386.1 44.2h1.9M1390.5 44.2h1.9M1393.0 44.2h1.9M1396.0 44.2h1.9M1396.0 46.4h1.9M1403.0 44.2h1.9M1403.0 46.4h1.9M1414.9 44.2h1.9M1414.9 46.8h1.9M1420.5 46.8h1.9M1424.9 44.2h1.9M1426.9 46.8h1.9M1425.5 46.4h1.9M1432.9 44.2h1.9M1432.9 46.4h1.9M1433.9 45.4h1.9M1440.8 44.2h1.9M1442.8 44.2h1.9M1440.8 46.4h1.9M1442.8 46.4h1.9M1459.7 46.4h1.9M1461.7 44.2h1.9M1461.7 46.8h1.9M1471.1 44.2h1.9M1471.1 46.8h1.9M1481.6 44.2h1.9M1483.6 44.2h1.9M1481.6 46.4h1.9M1486.6 44.2h1.9M1488.6 44.2h1.9M1486.6 46.4h1.9M1488.6 46.4h1.9M1226.2 49.8h1.9M1226.2 51.8h1.9M1241.4 49.8h1.9M1241.4 51.8h1.9M1294.5 49.8h1.9M1294.5 51.8h1.9M1315.0 49.8h1.9M1315.0 51.8h1.9M1326.8 50.4h1.9M1383.1 50.4h1.9M1479.6 49.8h1.9M1479.6 51.8h1.9M1480.6 50.8h1.9M1490.6 49.8h1.9M1490.6 51.8h1.9M1494.0 49.8h1.9M1494.0 51.8h1.9M1206.5 59.8h1.9M1213.9 56.2h1.9M1213.9 57.8h1.9M1264.2 57.4h1.9M1265.6 57.4h1.9M1298.9 59.8h1.9M1317.8 57.4h1.9M1319.4 57.4h1.9M1318.4 59.8h1.9M1327.9 59.8h1.9M1330.7 59.8h1.9M1332.7 56.2h1.9M1332.7 57.8h1.9M1334.7 59.8h1.9M1341.9 56.8h1.9M1342.9 57.8h1.9M1381.1 59.8h1.9M1383.1 59.8h1.9M1386.1 59.8h1.9M1407.6 59.8h1.9M1410.0 59.8h1.9M1413.9 59.8h1.9M1437.4 59.8h1.9M1458.7 59.8h1.9M1463.7 59.8h1.9M1465.7 59.8h1.9M1470.1 59.8h1.9M1207.9 94.6h1.9M1265.6 97.6h1.9M1317.8 97.6h1.9M1386.7 94.6h1.9M1411.0 94.6h1.9M1438.8 94.6h1.9M1475.7 94.6h1.9M1213.9 157.7h1.9M1341.9 156.9h1.9M1233.2 179.8h1.9M1235.4 178.8h1.9M1331.3 182.2h1.9M1314.0 191.5h1.9M1218.3 199.5h1.9M1225.2 197.1h1.9M1225.2 199.5h1.9M1230.2 199.5h1.9M1236.8 199.5h1.9M1243.7 197.1h1.9M1267.0 199.5h1.9M1295.9 199.5h1.9M1332.3 198.1h1.9M1386.7 197.1h1.9M1386.7 199.5h1.9M1392.6 197.1h1.9M1400.6 193.7h1.9M1421.3 199.5h1.9M1436.8 199.5h1.9M1459.7 197.1h1.9M1465.3 199.5h1.9M1487.2 199.5h1.9M1306.1 212.0h1.9M1391.5 212.0h1.9M1448.8 212.0h1.9M1476.6 212.0h1.9M1222.8 231.6h1.9M1245.1 231.6h1.9M1285.2 231.6h1.9M1285.2 233.0h1.9M1288.9 233.0h1.9M1314.0 231.6h1.9M1316.4 231.6h1.9M1314.0 233.3h1.9M1316.4 233.3h1.9M1337.3 231.4h1.9M1337.3 233.0h1.9M1401.6 231.4h1.9M1401.6 233.0h1.9M1392.4 237.5h1.9M1396.0 237.5h1.9M1415.5 229.0h1.9M1420.5 231.6h1.9M1428.5 227.4h1.9M1433.9 228.4h1.9M1436.4 228.4h1.9M1442.4 228.4h1.9M1474.7 233.0h1.9M1265.6 239.9h1.9M1213.9 246.9h1.9M1342.3 243.3h1.9M1343.3 244.9h1.9M1319.8 250.3h1.9M1319.8 251.9h1.9M1332.3 250.3h1.9M1329.9 276.7h1.9M372.8 380.9h1.9M374.7 380.9h1.9M376.1 380.9h1.9M377.9 380.9h1.9M379.3 380.9h1.9M380.9 380.9h1.9M384.3 380.9h1.9M386.0 380.9h1.9M412.8 340.7h1.9M414.4 340.7h1.9M416.3 340.7h1.9M417.5 340.7h1.9M419.1 340.7h1.9M420.8 340.7h1.9M422.1 340.7h1.9M423.9 340.7h1.9M471.4 297.9h1.9M472.8 297.9h1.9M477.4 297.9h1.9M479.3 297.9h1.9M480.5 297.9h1.9M480.5 419.0h1.9M314.3 284.0h1.9M358.1 290.0h1.9M338.8 296.9h1.9M374.4 297.9h1.9M375.6 305.9h1.9M344.8 308.3h1.9M359.5 308.3h1.9M347.8 315.2h1.9M406.5 297.9h1.9M416.8 297.9h1.9M421.8 297.9h1.9M405.5 305.9h1.9M406.9 304.9h1.9M419.4 283.0h1.9M441.3 283.0h1.9M431.2 292.0h1.9M441.3 305.9h1.9M453.3 304.9h1.9M437.7 313.9h1.9M437.7 326.8h1.9M472.0 316.4h1.9M472.6 305.9h1.9M484.1 315.2h1.9M488.9 317.8h1.9M489.9 322.4h1.9M493.5 293.5h1.9M489.9 301.3h1.9M404.5 334.8h1.9M412.3 337.1h1.9M421.8 337.1h1.9M425.4 334.8h1.9M362.7 339.7h1.9M371.1 340.7h1.9M496.9 345.3h1.9M473.6 358.6h1.9M475.6 360.6h1.9M476.0 362.6h1.9M476.0 364.6h1.9M479.1 360.0h1.9M486.5 372.0h1.9M433.4 376.6h1.9M441.3 376.6h1.9M401.5 390.5h1.9M445.7 399.8h1.9M428.8 412.4h1.9M449.7 418.0h1.9M396.9 409.4h1.9M398.9 410.4h1.9M396.9 412.4h1.9M398.9 413.4h1.9M434.8 447.8h1.9M448.3 449.2h1.9M486.5 514.5h1.9M419.8 439.3h1.9M485.5 523.9h1.9M490.5 526.4h1.9M391.0 402.4h1.9M400.9 419.4h1.9M413.9 432.3h1.9M346.2 335.7h1.9M361.1 356.6h1.9M382.0 390.5h1.9M524.9 301.3h1.9M527.9 299.9h1.9M607.9 297.9h1.9M617.1 295.5h1.9M620.9 294.5h1.9M621.9 307.3h1.9M568.7 310.9h1.9M572.1 311.9h1.9M525.9 321.2h1.9M531.9 324.4h1.9M622.9 331.4h1.9M785.7 303.9h1.9M828.5 297.9h1.9M806.6 309.5h1.9M822.5 316.4h1.9M828.5 343.1h1.9M838.1 343.1h1.9M500.0 348.7h1.9M502.0 352.1h1.9M504.0 355.7h1.9M510.0 345.3h1.9M512.4 348.7h1.9M514.6 352.1h1.9M517.0 355.7h1.9M587.2 347.7h1.9M591.6 351.1h1.9M594.2 354.7h1.9M560.8 360.2h1.9M539.9 368.2h1.9M588.2 375.2h1.9M632.0 404.0h1.9M624.1 405.4h1.9M609.1 408.8h1.9M625.1 382.1h1.9M626.5 385.5h1.9M627.8 388.8h1.9M629.2 392.2h1.9M630.6 395.5h1.9M632.0 398.9h1.9M807.6 344.1h1.9M808.8 345.7h1.9M810.0 347.3h1.9M811.2 349.1h1.9M812.6 350.7h1.9M813.6 352.3h1.9M814.6 354.1h1.9M790.3 368.2h1.9M792.7 368.2h1.9M791.3 366.0h1.9M803.0 366.0h1.9M803.0 368.6h1.9M769.4 406.6h1.9M834.1 412.4h1.9M671.6 423.7h1.9M692.1 421.5h1.9M748.5 422.7h1.9M749.9 424.7h1.9M633.4 430.7h1.9M634.8 429.3h1.9M635.8 435.3h1.9M636.8 441.3h1.9M637.8 444.8h1.9M640.4 452.8h1.9M641.4 453.6h1.9M642.4 457.2h1.9M643.8 459.8h1.9M645.0 463.1h1.9M646.0 475.5h1.9M647.0 476.7h1.9M546.8 442.2h1.9M699.1 464.1h1.9M822.5 472.5h1.9M649.3 504.6h1.9M650.7 506.9h1.9M651.9 512.9h1.9M653.9 519.9h1.9M652.7 526.4h1.9M655.3 525.3h1.9M659.9 528.8h1.9M656.3 532.4h1.9M610.1 543.8h1.9M507.0 540.8h1.9M959.1 287.6h1.9M991.9 282.0h1.9M1126.7 283.0h1.9M1124.3 286.4h1.9M1140.6 284.0h1.9M844.0 297.9h1.9M868.3 297.9h1.9M884.4 297.9h1.9M914.3 297.9h1.9M976.8 298.9h1.9M1079.3 297.9h1.9M1094.4 297.9h1.9M1097.8 297.9h1.9M1106.8 298.9h1.9M1109.4 300.9h1.9M1115.2 296.9h1.9M845.0 305.9h1.9M859.0 305.9h1.9M870.3 305.9h1.9M887.8 305.9h1.9M906.1 305.9h1.9M960.5 305.9h1.9M1080.5 305.9h1.9M1064.4 308.3h1.9M1076.9 309.9h1.9M1087.5 309.9h1.9M1089.5 312.3h1.9M1118.7 309.5h1.9M852.0 318.2h1.9M852.0 319.8h1.9M993.9 316.4h1.9M1030.7 316.4h1.9M1083.9 315.2h1.9M1086.5 317.4h1.9M1091.9 318.8h1.9M1090.3 321.8h1.9M1088.5 324.2h1.9M1156.6 315.2h1.9M1160.1 316.4h1.9M906.1 330.2h1.9M915.7 330.2h1.9M915.7 334.8h1.9M870.3 334.8h1.9M953.5 334.8h1.9M1077.9 332.4h1.9M1081.5 334.8h1.9M1101.4 334.8h1.9M1117.3 330.2h1.9M1142.6 334.8h1.9M839.6 342.7h1.9M845.0 342.7h1.9M877.3 340.7h1.9M953.5 341.7h1.9M960.5 339.7h1.9M1001.9 340.7h1.9M1070.0 340.7h1.9M1106.8 341.7h1.9M1165.5 342.7h1.9M948.9 358.0h1.9M1035.5 358.0h1.9M1041.1 361.2h1.9M1041.1 363.6h1.9M1069.0 360.2h1.9M1065.4 366.0h1.9M1063.0 368.6h1.9M842.6 366.0h1.9M849.6 368.2h1.9M869.3 368.2h1.9M884.4 368.2h1.9M955.9 370.6h1.9M974.4 367.2h1.9M1084.9 372.0h1.9M1145.2 370.6h1.9M919.1 376.6h1.9M990.3 383.5h1.9M1031.7 380.9h1.9M849.6 390.1h1.9M874.9 390.1h1.9M877.3 390.1h1.9M884.4 390.1h1.9M910.7 390.1h1.9M892.2 397.1h1.9M888.0 390.1h1.9M889.2 390.1h1.9M891.1 390.1h1.9M894.1 390.1h1.9M896.0 390.1h1.9M897.2 390.1h1.9M899.2 390.1h1.9M900.6 390.1h1.9M902.3 390.1h1.9M903.5 390.1h1.9M905.4 390.1h1.9M933.6 393.5h1.9M935.0 393.5h1.9M936.7 393.5h1.9M938.7 393.5h1.9M940.0 393.5h1.9M941.8 393.5h1.9M881.8 407.6h1.9M886.4 407.6h1.9M855.4 412.4h1.9M927.0 412.4h1.9M1000.9 412.4h1.9M866.9 419.0h1.9M885.4 420.3h1.9M920.1 421.3h1.9M1016.8 412.4h1.9M1018.2 409.8h1.9M1020.6 411.0h1.9M1022.2 409.8h1.9M1019.2 415.8h1.9M1035.5 419.0h1.9M1052.4 410.4h1.9M1053.0 412.4h1.9M1054.4 414.4h1.9M1056.0 415.8h1.9M1056.6 417.4h1.9M1057.4 409.8h1.9M1057.4 412.4h1.9M1053.6 413.4h1.9M1055.2 415.0h1.9M1119.7 421.3h1.9M1119.7 422.9h1.9M1119.7 424.5h1.9M1126.7 434.3h1.9M1156.6 443.2h1.9M1173.9 399.4h1.9M874.9 439.9h1.9M1001.9 443.2h1.9M1015.8 443.2h1.9M1029.8 466.5h1.9M1029.6 474.5h1.9M1030.7 473.5h1.9M1001.9 481.5h1.9M1110.4 466.5h1.9M1160.1 468.7h1.9M1176.5 484.0h1.9M1178.1 485.4h1.9M849.6 518.5h1.9M1035.5 517.3h1.9M1084.9 514.9h1.9M1093.3 523.5h1.9M1093.3 524.9h1.9M1108.2 521.9h1.9M1110.4 520.9h1.9M1121.7 523.3h1.9M1121.7 524.9h1.9M1113.8 529.8h1.9M1147.6 539.4h1.9M1009.8 542.8h1.9M1179.0 485.4h1.9M1180.4 487.6h1.9M1181.8 489.7h1.9M1183.2 491.9h1.9M1184.5 494.0h1.9M1185.9 496.1h1.9M1187.3 498.3h1.9M1188.6 500.4h1.9M1190.0 502.6h1.9M1256.1 544.8h1.9M1257.5 546.8h1.9M1258.9 548.7h1.9M1260.3 550.7h1.9M1261.7 552.7h1.9M1296.5 360.0h1.9M1450.2 523.9h1.9M1336.3 283.0h1.9M1483.6 287.6h1.9M1270.0 296.9h1.9M1275.0 298.9h1.9M1326.8 297.9h1.9M1383.5 297.9h1.9M1438.8 297.9h1.9M1474.3 297.9h1.9M1477.6 297.9h1.9M1495.6 297.9h1.9M1211.3 305.9h1.9M1237.8 305.9h1.9M1303.5 312.9h1.9M1308.4 311.9h1.9M1300.9 315.8h1.9M1304.9 315.4h1.9M1307.4 316.8h1.9M1300.1 319.8h1.9M1303.5 318.8h1.9M1306.5 320.2h1.9M1301.9 324.2h1.9M1305.5 322.8h1.9M1304.1 321.4h1.9M1311.8 328.2h1.9M1310.8 333.8h1.9M1441.4 312.9h1.9M1444.4 312.3h1.9M1448.2 309.9h1.9M1448.2 311.9h1.9M1453.8 312.3h1.9M1457.3 310.3h1.9M1449.2 314.8h1.9M1445.8 318.8h1.9M1443.8 321.4h1.9M1446.8 323.8h1.9M1452.8 320.8h1.9M1454.8 318.8h1.9M1455.7 323.8h1.9M1453.4 321.8h1.9M1482.6 319.8h1.9M1487.2 316.4h1.9M1391.5 315.2h1.9M1224.2 333.8h1.9M1243.7 334.2h1.9M1235.8 338.3h1.9M1235.8 340.7h1.9M1387.7 333.8h1.9M1436.4 334.8h1.9M1465.3 334.8h1.9M1468.7 333.8h1.9M1478.0 340.7h1.9M1325.8 359.2h1.9M1325.8 360.2h1.9M1379.7 361.6h1.9M1379.7 363.6h1.9M1398.0 361.6h1.9M1399.6 361.6h1.9M1398.0 363.6h1.9M1399.6 363.6h1.9M1409.0 359.2h1.9M1409.0 361.6h1.9M1409.0 364.6h1.9M1338.3 369.6h1.9M1339.9 369.6h1.9M1338.3 372.0h1.9M1339.9 372.0h1.9M1303.9 372.0h1.9M1415.5 372.0h1.9M1417.9 372.0h1.9M1422.5 372.0h1.9M1423.9 372.0h1.9M1430.9 369.6h1.9M1433.9 372.0h1.9M1451.4 372.0h1.9M1459.7 372.0h1.9M1432.9 378.9h1.9M1425.9 380.9h1.9M1386.7 380.9h1.9M1231.2 390.5h1.9M1376.5 400.8h1.9M1378.7 399.4h1.9M1403.0 406.4h1.9M1400.6 412.4h1.9M1386.7 419.0h1.9M1467.7 412.4h1.9M1487.2 419.0h1.9M1225.2 419.0h1.9M1232.2 426.9h1.9M1324.4 419.0h1.9M1333.9 434.3h1.9M1222.8 443.2h1.9M1236.8 445.6h1.9M1288.5 443.2h1.9M1477.6 439.9h1.9M1469.7 464.1h1.9M1469.7 465.5h1.9M1487.2 466.5h1.9M1415.5 470.7h1.9M1244.7 482.5h1.9M1286.5 513.9h1.9M1286.5 519.9h1.9M1287.9 521.9h1.9M1308.4 514.9h1.9M1317.8 515.9h1.9M1317.8 518.5h1.9M1319.0 518.5h1.9M1324.8 517.3h1.9M1404.4 518.5h1.9M1421.3 514.9h1.9M1451.4 514.9h1.9M1459.7 514.9h1.9M1474.7 518.5h1.9M1271.2 530.0h1.9M1276.0 531.2h1.9M1339.7 539.4h1.9M1414.5 541.4h1.9M599.6 634.6h1.9M602.6 635.2h1.9M539.9 577.9h1.9M543.8 583.9h1.9M544.4 586.8h1.9M546.8 590.8h1.9M543.2 581.9h1.9M551.2 593.8h1.9M553.2 595.8h1.9M572.7 616.1h1.9M582.3 623.7h1.9M639.0 642.0h1.9M648.3 643.6h1.9M662.3 641.0h1.9M797.6 774.0h1.9M800.6 775.0h1.9M800.6 773.4h1.9M778.7 747.1h1.9M550.4 564.9h1.9M569.7 561.0h1.9M571.7 560.0h1.9M577.1 564.0h1.9M567.7 567.3h1.9M574.7 567.3h1.9M575.7 567.3h1.9M547.8 579.9h1.9M548.8 581.9h1.9M554.8 589.2h1.9M564.1 597.2h1.9M657.7 562.6h1.9M658.9 569.5h1.9M661.3 604.2h1.9M770.8 563.6h1.9M768.4 567.3h1.9M785.7 579.9h1.9M786.7 578.9h1.9M823.9 575.3h1.9M825.1 575.3h1.9M796.1 586.8h1.9M793.3 590.8h1.9M794.7 589.8h1.9M797.0 597.2h1.9M801.0 597.2h1.9M804.2 618.1h1.9M775.2 644.6h1.9M776.7 646.0h1.9M786.7 646.6h1.9M789.3 648.0h1.9M799.6 649.2h1.9M836.5 650.5h1.9M838.1 651.5h1.9M771.8 742.7h1.9M798.2 742.7h1.9M799.6 744.1h1.9M828.5 746.1h1.9M830.5 746.1h1.9M801.6 764.4h1.9M803.0 767.0h1.9M837.5 778.5h1.9M854.0 805.2h1.9M855.0 806.4h1.9M849.0 800.8h1.9M863.9 652.5h1.9M873.9 653.5h1.9M875.9 655.9h1.9M878.9 657.5h1.9M880.5 658.3h1.9M885.8 660.5h1.9M888.4 661.5h1.9M890.8 662.5h1.9M893.2 663.5h1.9M895.8 664.9h1.9M898.8 666.5h1.9M901.8 667.5h1.9M904.1 668.9h1.9M916.7 669.9h1.9M932.6 671.0h1.9M935.2 673.4h1.9M941.0 672.2h1.9M972.0 674.4h1.9M973.4 674.4h1.9M976.8 675.8h1.9M1005.3 677.8h1.9M1006.9 677.8h1.9M1010.2 679.0h1.9M1014.8 677.0h1.9M1019.6 681.4h1.9M1020.6 682.4h1.9M1022.2 680.4h1.9M1025.2 683.8h1.9M1033.1 687.4h1.9M1036.5 684.8h1.9M1039.1 689.4h1.9M1040.1 688.4h1.9M1042.5 686.0h1.9M1044.1 686.0h1.9M1046.1 690.6h1.9M1047.5 691.0h1.9M1051.6 694.3h1.9M1059.6 692.7h1.9M1061.6 691.8h1.9M1071.4 696.5h1.9M1082.9 695.3h1.9M1094.4 697.7h1.9M1120.7 698.7h1.9M1141.6 699.9h1.9M1151.0 701.3h1.9M841.0 567.3h1.9M881.8 573.9h1.9M970.8 572.9h1.9M988.3 571.9h1.9M990.7 571.9h1.9M1104.8 560.0h1.9M1104.8 561.6h1.9M1116.3 568.3h1.9M1116.3 570.9h1.9M1131.3 572.9h1.9M944.2 581.9h1.9M945.5 584.5h1.9M945.5 592.4h1.9M1011.2 586.8h1.9M1011.8 589.8h1.9M1012.6 591.2h1.9M1051.6 590.2h1.9M1073.5 586.8h1.9M1072.9 589.4h1.9M1072.4 591.4h1.9M1142.6 587.8h1.9M848.6 597.2h1.9M907.3 597.2h1.9M907.3 598.4h1.9M925.6 597.2h1.9M930.6 597.2h1.9M979.0 595.8h1.9M979.0 597.2h1.9M1028.6 599.8h1.9M1064.4 601.8h1.9M1134.7 600.8h1.9M1111.8 612.1h1.9M1118.7 612.1h1.9M1030.7 616.9h1.9M1158.9 619.1h1.9M968.4 627.3h1.9M883.2 638.8h1.9M1171.5 638.8h1.9M839.6 651.5h1.9M905.1 654.9h1.9M924.6 703.3h1.9M1119.7 680.4h1.9M1166.5 618.1h1.9M1167.9 618.1h1.9M1169.4 618.1h1.9M1171.4 618.1h1.9M845.0 746.1h1.9M869.3 754.1h1.9M929.2 746.1h1.9M924.6 749.5h1.9M929.2 753.1h1.9M994.9 743.7h1.9M994.9 753.1h1.9M1023.8 746.1h1.9M1161.1 742.5h1.9M1161.1 746.1h1.9M1163.5 745.1h1.9M1168.5 746.1h1.9M944.2 763.4h1.9M912.1 767.0h1.9M907.3 774.0h1.9M954.9 771.6h1.9M999.7 767.0h1.9M1074.9 772.6h1.9M1125.7 767.0h1.9M1164.9 767.0h1.9M841.0 777.3h1.9M848.6 775.0h1.9M853.0 778.5h1.9M858.0 778.5h1.9M865.9 786.5h1.9M923.7 782.9h1.9M931.6 792.3h1.9M1000.9 789.9h1.9M1169.5 777.3h1.9M1172.9 778.5h1.9M1165.9 780.9h1.9M1144.0 785.5h1.9M884.2 800.4h1.9M1037.7 800.4h1.9M1063.0 800.4h1.9M910.7 814.4h1.9M1157.6 812.0h1.9M1262.3 555.0h1.9M1263.3 559.0h1.9M1211.3 567.3h1.9M1273.6 570.9h1.9M1340.7 563.6h1.9M1340.7 567.3h1.9M1389.1 563.6h1.9M1387.7 567.3h1.9M1389.1 567.3h1.9M1393.6 560.4h1.9M1397.4 567.3h1.9M1403.0 567.3h1.9M1404.6 567.3h1.9M1406.6 567.3h1.9M1440.8 560.4h1.9M1397.4 575.3h1.9M1393.6 577.5h1.9M1289.9 586.8h1.9M1322.0 595.0h1.9M1229.8 597.2h1.9M1212.5 606.6h1.9M1266.6 605.4h1.9M1297.9 602.8h1.9M1296.9 608.7h1.9M1287.5 614.5h1.9M1386.7 615.7h1.9M1390.1 612.3h1.9M1392.0 612.1h1.9M1394.0 612.1h1.9M1436.4 614.5h1.9M1437.8 614.5h1.9M1468.7 614.5h1.9M1479.0 614.5h1.9M1481.6 618.1h1.9M1485.0 611.1h1.9M1485.0 613.3h1.9M1496.6 643.6h1.9M1499.5 642.2h1.9M1271.1 613.3h1.9M1272.6 613.3h1.9M1274.2 613.3h1.9M1275.9 613.3h1.9M1206.5 702.3h1.9M1208.9 704.7h1.9M1210.3 704.7h1.9M1216.9 705.9h1.9M1220.5 706.9h1.9M1242.4 707.9h1.9M1267.6 709.3h1.9M1269.0 710.5h1.9M1279.2 711.7h1.9M1282.6 713.8h1.9M1284.0 712.7h1.9M1289.9 714.8h1.9M1299.1 716.0h1.9M1314.0 717.2h1.9M1316.4 718.4h1.9M1318.4 719.6h1.9M1320.8 720.8h1.9M1327.9 722.2h1.9M1329.7 723.2h1.9M1331.9 724.4h1.9M1334.9 725.6h1.9M1337.3 726.6h1.9M1382.1 727.8h1.9M1380.7 730.2h1.9M1386.1 729.0h1.9M1402.0 731.2h1.9M1407.6 732.4h1.9M1410.0 733.6h1.9M1413.5 734.7h1.9M1437.4 735.7h1.9M1439.8 736.9h1.9M1458.3 738.1h1.9M1461.7 739.3h1.9M1464.1 740.5h1.9M1469.7 741.5h1.9M1471.1 741.5h1.9M1312.8 745.1h1.9M1340.7 746.1h1.9M1337.3 751.9h1.9M1389.1 746.1h1.9M1467.7 753.1h1.9M1290.9 753.1h1.9M1293.1 758.6h1.9M1293.1 761.0h1.9M1299.1 758.6h1.9M1319.8 782.9h1.9M1342.7 782.9h1.9M1346.7 781.7h1.9M1241.4 785.3h1.9M1429.5 773.8h1.9M1491.6 767.0h1.9M1230.8 795.7h1.9M1237.8 796.9h1.9M1229.8 803.8h1.9M1230.8 816.8h1.9M1393.6 800.4h1.9M1494.2 800.4h1.9M1422.3 809.4h1.9M1423.5 812.2h1.9M1424.9 817.8h1.9M1481.6 824.3h1.9M903.7 840.3h1.9M906.7 842.3h1.9M909.7 844.3h1.9M912.7 845.9h1.9M922.7 850.3h1.9M925.6 852.3h1.9M927.6 853.9h1.9M930.2 855.5h1.9M932.6 857.3h1.9M943.6 864.2h1.9M959.5 876.2h1.9M993.9 895.7h1.9M1007.3 904.0h1.9M1008.7 905.6h1.9M1022.8 909.2h1.9M1026.2 912.0h1.9M1047.1 922.5h1.9M1070.0 933.9h1.9M1081.5 935.1h1.9M1097.8 934.9h1.9M1099.8 934.9h1.9M1102.8 934.9h1.9M1098.8 936.9h1.9M1101.4 937.9h1.9M1103.4 937.9h1.9M1105.8 947.8h1.9M1111.8 949.8h1.9M1114.8 951.0h1.9M1117.7 951.8h1.9M1125.7 953.0h1.9M1128.1 954.4h1.9M1137.0 955.8h1.9M1143.0 957.4h1.9M1162.5 979.7h1.9M1165.5 982.3h1.9M1169.9 984.3h1.9M1172.5 985.3h1.9M921.7 830.4h1.9M922.7 831.0h1.9M1007.9 832.0h1.9M1007.9 833.2h1.9M1031.7 830.8h1.9M1034.1 830.8h1.9M1069.0 830.8h1.9M975.6 841.9h1.9M918.1 843.5h1.9M1105.8 841.9h1.9M1144.0 838.9h1.9M1044.7 864.2h1.9M930.6 851.5h1.9M952.5 861.8h1.9M961.9 871.2h1.9M1126.7 873.4h1.9M1146.2 882.7h1.9M1133.7 890.7h1.9M1128.7 894.1h1.9M1128.7 902.0h1.9M1133.7 902.0h1.9M1112.8 940.5h1.9M1112.8 941.5h1.9M1158.9 954.0h1.9M1190.4 987.6h1.9M1191.9 989.6h1.9M1193.4 991.5h1.9M1194.9 993.4h1.9M1196.4 995.3h1.9M1198.0 997.2h1.9M1208.5 1008.7h1.9M1211.3 1010.1h1.9M1215.9 1012.1h1.9M1217.9 1013.1h1.9M1220.5 1015.1h1.9M1222.4 1017.1h1.9M1225.8 1018.7h1.9M1227.8 1018.7h1.9M1239.8 1023.1h1.9M1288.5 1049.0h1.9M1309.4 1059.3h1.9M1314.4 1060.9h1.9M1316.4 1062.9h1.9M1320.8 1063.9h1.9M1323.4 1064.9h1.9M1339.3 1071.8h1.9M1356.8 1076.8h1.9M1359.2 1077.8h1.9M1364.2 1078.8h1.9M1368.6 1076.4h1.9M1371.1 1077.8h1.9M1375.7 1078.8h1.9M1350.2 1077.2h1.9M1353.2 1079.2h1.9M1256.3 1025.7h1.9M1257.3 1027.7h1.9M1258.4 1029.8h1.9M1259.4 1031.8h1.9M1260.5 1033.9h1.9M1261.5 1035.9h1.9M1262.6 1037.9h1.9M1263.7 1040.0h1.9M1365.2 1082.8h1.9M1366.5 1084.8h1.9M1367.7 1086.9h1.9M1369.0 1088.9h1.9M1370.3 1091.0h1.9M1371.6 1093.0h1.9M1372.9 1095.1h1.9M1374.1 1097.1h1.9M1330.3 843.5h1.9M1379.7 843.5h1.9M1386.7 841.1h1.9M1408.6 833.0h1.9M1409.0 833.6h1.9M1408.6 844.7h1.9M1435.4 830.8h1.9M1465.3 842.3h1.9M1489.6 845.9h1.9M1272.6 847.9h1.9M1274.2 847.9h1.9M1277.2 849.3h1.9M1229.8 856.3h1.9M1384.7 867.8h1.9M1335.9 874.6h1.9M1231.8 879.1h1.9M1240.2 877.0h1.9M1349.8 884.9h1.9M1404.0 880.3h1.9M1406.4 880.3h1.9M1408.0 905.8h1.9M1212.5 920.8h1.9M1494.2 917.4h1.9M1270.1 946.0h1.9M1271.4 946.0h1.9M1273.0 946.0h1.9M1274.9 946.0h1.9M1276.2 946.0h1.9M1214.9 935.7h1.9M1214.9 941.5h1.9M1214.9 946.0h1.9M1224.0 946.0h1.9M1311.8 943.8h1.9M1277.2 948.4h1.9M1272.6 951.8h1.9M1264.6 953.0h1.9M1288.7 953.0h1.9M1267.8 962.4h1.9M1381.1 949.6h1.9M1482.6 950.8h1.9M1495.6 948.4h1.9M1495.6 951.8h1.9M1422.3 964.5h1.9M1423.9 966.7h1.9M1433.1 965.7h1.9M1498.9 974.9h1.9M1253.9 983.1h1.9M1312.8 981.9h1.9M1340.7 981.9h1.9M1387.7 981.9h1.9M1377.5 986.4h1.9M1228.6 1007.3h1.9M1239.0 1009.5h1.9M1225.2 1013.1h1.9M1280.8 1010.7h1.9M1264.6 1014.1h1.9M1266.8 1017.7h1.9M1323.4 1024.7h1.9M1412.2 1018.7h1.9M1487.2 1013.1h1.9M1486.2 1017.7h1.9M1488.2 1016.5h1.9M1388.5 1059.3h1.9M1382.1 1117.0h1.9M1387.1 1119.0h1.9M1392.4 1117.0h1.9M1395.0 1117.0h1.9M1405.0 1127.4h1.9M1408.0 1128.4h1.9M1411.0 1129.0h1.9M1424.9 1129.8h1.9M1432.9 1131.0h1.9M1425.9 1134.4h1.9M1431.5 1137.8h1.9M1434.8 1138.7h1.9M1439.4 1140.3h1.9M1483.6 1149.3h1.9M1491.6 1150.9h1.9M1486.6 1154.9h1.9M1497.6 1163.6h1.9M1499.5 1163.6h1.9M1419.3 1101.1h1.9M1499.9 1141.3h1.9M1499.9 1147.3h1.9M1499.9 1149.3h1.9M1465.7 1142.9h1.9M1467.6 1144.2h1.9M1469.4 1145.5h1.9M1471.3 1146.8h1.9M1473.2 1148.1h1.9M1475.0 1149.4h1.9M1476.9 1150.7h1.9M1478.8 1152.0h1.9M1480.6 1153.3h1.9M889.6 826.9h1.9M892.2 828.7h1.9M893.1 828.4h1.9M895.6 829.6h1.9M897.8 833.4h1.9M898.9 836.4h1.9M899.6 837.5h1.9M903.1 840.1h1.9M903.9 841.1h1.9M905.4 842.1h1.9M909.7 843.4h1.9M910.4 844.8h1.9M911.9 845.3h1.9M913.4 846.4h1.9M914.1 847.0h1.9M916.6 848.5h1.9M918.4 849.2h1.9M921.6 851.0h1.9M925.2 852.4h1.9M926.8 852.7h1.9M929.2 854.6h1.9M931.0 856.3h1.9M934.7 858.4h1.9M935.9 859.2h1.9M942.1 862.7h1.9M945.1 866.0h1.9M946.3 866.6h1.9M947.7 866.7h1.9M950.2 867.7h1.9M951.2 869.2h1.9M952.4 870.1h1.9M952.7 871.6h1.9M955.0 873.5h1.9M956.8 874.7h1.9M959.0 876.9h1.9M959.3 877.5h1.9M961.0 878.6h1.9M961.7 879.1h1.9M962.8 880.7h1.9M963.6 881.1h1.9M964.9 882.1h1.9M965.2 883.2h1.9M968.9 885.6h1.9M974.5 887.9h1.9M979.5 888.5h1.9M980.6 890.0h1.9M982.6 892.0h1.9M984.0 892.3h1.9M987.5 894.7h1.9M989.0 894.2h1.9M991.4 894.8h1.9M992.1 895.6h1.9M996.9 897.0h1.9M999.6 898.7h1.9M1002.4 901.3h1.9M1003.3 901.9h1.9M1004.4 903.2h1.9M1005.6 903.8h1.9M1007.1 905.2h1.9M1008.4 905.6h1.9M1012.2 907.2h1.9M1013.6 908.0h1.9M1015.0 908.3h1.9M1016.7 909.2h1.9M1019.6 910.2h1.9M1022.4 910.6h1.9M1023.1 911.5h1.9M1025.1 911.4h1.9M1027.3 912.3h1.9M1032.0 914.3h1.9M1033.2 914.6h1.9M1038.9 917.4h1.9M1040.0 918.7h1.9M1042.4 919.7h1.9M1044.8 921.4h1.9M1047.2 922.8h1.9M1047.8 923.6h1.9M1050.5 925.1h1.9M1051.1 925.9h1.9M1056.7 927.9h1.9M1058.3 928.3h1.9M1059.3 928.9h1.9M1062.9 931.4h1.9M1065.5 932.0h1.9M1068.2 933.6h1.9M1071.0 934.3h1.9M1072.6 934.1h1.9M1075.1 934.4h1.9M1079.3 935.8h1.9M1081.9 937.6h1.9M1097.6 941.2h1.9M1100.2 943.8h1.9M1100.8 944.0h1.9M1102.6 946.0h1.9M1107.0 948.0h1.9M1109.2 949.2h1.9M1110.3 949.3h1.9M1114.7 950.6h1.9M1115.8 951.4h1.9M1117.6 952.3h1.9M1122.0 952.3h1.9M1122.7 953.2h1.9M1124.3 953.2h1.9M1125.8 953.9h1.9M1126.5 953.9h1.9M1129.0 954.8h1.9M1130.9 955.3h1.9M1134.0 957.6h1.9M1137.1 960.2h1.9M1138.4 960.8h1.9M1149.3 964.2h1.9M1150.7 967.0h1.9M1151.0 967.3h1.9M1152.3 969.6h1.9M1155.1 973.0h1.9M1155.1 974.4h1.9M1157.4 976.2h1.9M1160.7 978.9h1.9M1161.5 980.0h1.9M1162.9 981.1h1.9M1164.8 981.1h1.9M1166.5 982.7h1.9M1167.9 983.6h1.9M1169.6 984.4h1.9M1172.2 985.1h1.9M1174.8 987.5h1.9M1176.1 988.8h1.9M1177.6 992.4h1.9M1198.1 999.6h1.9M1203.0 1003.8h1.9M1204.9 1006.5h1.9M1206.8 1008.2h1.9M1209.1 1008.8h1.9M1211.7 1010.0h1.9M1212.0 1011.1h1.9M1214.7 1012.4h1.9M1216.5 1013.3h1.9M1221.8 1015.2h1.9M1222.5 1016.4h1.9M1225.8 1017.1h1.9M1226.9 1018.4h1.9M1228.0 1018.4h1.9M1230.9 1019.2h1.9M1233.5 1021.3h1.9M1235.9 1022.7h1.9M1239.3 1023.3h1.9M1241.0 1023.9h1.9M1243.4 1024.1h1.9M1277.7 1043.3h1.9M1283.0 1047.4h1.9M1285.7 1048.7h1.9M1288.1 1049.2h1.9M1290.2 1049.9h1.9M1292.1 1051.5h1.9M1292.1 1053.0h1.9M1294.1 1055.2h1.9M1295.2 1056.9h1.9M1309.6 1059.7h1.9M1315.3 1062.0h1.9M1317.8 1063.6h1.9M1320.2 1064.4h1.9M1322.5 1064.6h1.9M1325.1 1065.3h1.9M1325.6 1066.3h1.9M1328.7 1067.7h1.9M1330.8 1068.9h1.9M1337.0 1069.7h1.9M1337.9 1070.5h1.9M1341.3 1071.7h1.9M1342.4 1073.3h1.9M1343.4 1073.5h1.9M1345.7 1075.1h1.9M1379.1 1115.9h1.9M1380.3 1116.4h1.9M1384.5 1117.7h1.9M1387.0 1119.1h1.9M1388.5 1119.8h1.9M1390.0 1119.2h1.9M1393.1 1120.1h1.9M1397.1 1124.5h1.9M1398.7 1124.6h1.9M1400.5 1126.3h1.9M1402.0 1126.4h1.9M1403.5 1127.2h1.9M1408.2 1127.8h1.9M1410.5 1128.9h1.9M1412.4 1130.0h1.9M1416.0 1132.2h1.9M1419.9 1133.6h1.9M1422.4 1134.9h1.9M1423.9 1135.5h1.9M1424.7 1136.0h1.9M1426.9 1136.2h1.9M1429.3 1137.5h1.9M1433.3 1138.9h1.9M1436.9 1139.2h1.9M1460.3 1141.4h1.9M1461.5 1141.7h1.9M1465.8 1142.7h1.9M1467.9 1144.6h1.9M1469.2 1145.8h1.9M1470.4 1145.7h1.9M1473.1 1147.7h1.9M1477.2 1151.0h1.9M1478.7 1151.2h1.9M1480.1 1153.2h1.9M1481.5 1153.4h1.9M1482.8 1154.5h1.9M1487.1 1155.7h1.9M1489.2 1157.2h1.9M1490.5 1158.6h1.9M1493.3 1161.7h1.9M518.7 554.1h1.9M520.0 555.3h1.9M530.9 563.8h1.9M535.6 572.5h1.9M547.2 590.3h1.9M549.2 592.7h1.9M550.4 594.1h1.9M551.3 595.4h1.9M552.8 597.3h1.9M554.7 600.5h1.9M559.1 602.2h1.9M562.4 603.9h1.9M564.1 605.8h1.9M565.8 608.8h1.9M569.4 611.7h1.9M570.1 612.1h1.9M584.6 625.1h1.9M587.8 626.3h1.9M588.1 626.5h1.9M590.2 629.0h1.9M591.8 630.7h1.9M595.5 631.2h1.9M843.0 797.9h1.9M844.1 800.5h1.9M846.8 801.6h1.9M858.2 805.9h1.9M859.3 806.9h1.9M861.4 810.5h1.9M862.7 812.6h1.9M867.7 814.9h1.9M869.3 815.8h1.9M871.2 818.1h1.9M872.5 819.5h1.9M873.5 820.3h1.9M875.3 821.3h1.9M877.6 822.3h1.9M879.4 823.3h1.9M880.5 822.8h1.9M885.7 824.2h1.9M779.5 751.2h1.9M780.2 752.7h1.9M787.0 764.4h1.9M788.3 765.7h1.9M790.0 767.1h1.9M792.0 769.7h1.9M802.0 777.1h1.9M803.0 776.7h1.9M805.1 778.8h1.9M825.3 783.0h1.9M826.4 784.7h1.9M830.0 787.4h1.9M835.1 791.7h1.9M836.2 793.1h1.9" fill="none" stroke="#95a826" stroke-width="1.90"/>
<ellipse cx="387.9" cy="22.9" rx="5.4" ry="5.4" fill="#a9a81c"/>
<ellipse cx="387.9" cy="43.8" rx="5.4" ry="5.4" fill="#7fa650"/>
<ellipse cx="436.7" cy="20.4" rx="4.4" ry="4.4" fill="#8aa83e"/>
<ellipse cx="446.7" cy="20.9" rx="5.2" ry="5.2" fill="#a9a81c"/>
<ellipse cx="387.9" cy="198.1" rx="5.4" ry="6.4" fill="#a9a81c"/>
<ellipse cx="436.3" cy="56.4" rx="2.0" ry="2.0" fill="#95a826"/>
<ellipse cx="436.3" cy="94.6" rx="2.0" ry="2.0" fill="#95a826"/>
<ellipse cx="436.3" cy="145.4" rx="2.0" ry="2.0" fill="#95a826"/>
<ellipse cx="368.0" cy="57.2" rx="1.4" ry="1.4" fill="#95a826"/>
<ellipse cx="426.7" cy="59.8" rx="1.2" ry="1.2" fill="#95a826"/>
<ellipse cx="792.0" cy="34.5" rx="2.4" ry="1.6" fill="#95a826"/>
<ellipse cx="1175.0" cy="20.9" rx="5.4" ry="5.4" fill="#a9a81c"/>
<ellipse cx="1500.9" cy="20.0" rx="4.8" ry="4.8" fill="#7fa650"/>
<ellipse cx="1500.9" cy="22.3" rx="5.2" ry="6.0" fill="#a9a81c"/>
<ellipse cx="1500.9" cy="42.8" rx="4.4" ry="4.4" fill="#7fa650"/>
<ellipse cx="1500.9" cy="46.2" rx="5.2" ry="6.0" fill="#a9a81c"/>
<ellipse cx="1365.1" cy="229.0" rx="3.6" ry="3.6" fill="#a5a81e"/>
<ellipse cx="1430.4" cy="199.5" rx="2.0" ry="2.0" fill="#95a826"/>
<ellipse cx="387.9" cy="377.6" rx="5.2" ry="5.2" fill="#7fa650"/>
<ellipse cx="446.7" cy="466.1" rx="5.2" ry="5.2" fill="#a9a81c"/>
<ellipse cx="446.7" cy="472.1" rx="5.2" ry="5.2" fill="#7fa650"/>
<ellipse cx="404.4" cy="422.9" rx="1.8" ry="2.8" fill="#95a826"/>
<ellipse cx="1176.0" cy="369.2" rx="4.8" ry="4.8" fill="#7fa650"/>
<ellipse cx="1176.0" cy="371.6" rx="5.2" ry="5.2" fill="#a9a81c"/>
<ellipse cx="997.9" cy="464.7" rx="1.6" ry="1.6" fill="#95a826"/>
<ellipse cx="1270.0" cy="421.3" rx="15.5" ry="15.5" fill="#003c40"/>
<ellipse cx="1352.8" cy="370.2" rx="4.8" ry="4.8" fill="#a0a824"/>
<ellipse cx="1365.5" cy="369.0" rx="4.0" ry="4.0" fill="#9aa82e"/>
<ellipse cx="1349.6" cy="466.5" rx="4.4" ry="3.6" fill="#a0a822"/>
<ellipse cx="1349.6" cy="472.1" rx="4.8" ry="4.0" fill="#92a834"/>
<ellipse cx="1270.0" cy="682.4" rx="15.5" ry="15.5" fill="#e62e00"/>
<ellipse cx="1430.4" cy="597.2" rx="2.2" ry="2.2" fill="#95a826"/>
<ellipse cx="1211.3" cy="695.3" rx="1.4" ry="1.4" fill="#95a826"/>
<ellipse cx="1211.3" cy="939.3" rx="1.2" ry="1.2" fill="#95a826"/>
<ellipse cx="1366.1" cy="1101.1" rx="4.0" ry="4.0" fill="#8fa838"/>
<rect x="1344.8" y="16.0" width="14.7" height="8.8" rx="4.4" ry="4.4" fill="#9ea822"/>
<rect x="1352.2" y="19.0" width="15.9" height="8.0" rx="4.0" ry="4.0" fill="#a3a81e"/>
<rect x="1363.7" y="16.0" width="16.7" height="8.8" rx="4.4" ry="4.4" fill="#a3a81e"/>
<rect x="1351.8" y="39.5" width="16.7" height="8.8" rx="4.4" ry="4.4" fill="#8aa83c"/>
<rect x="1351.8" y="192.7" width="16.7" height="10.7" rx="4.4" ry="5.4" fill="#a3a81e"/>
<rect x="1364.1" y="222.0" width="15.9" height="8.0" rx="4.0" ry="4.0" fill="#8aa83c"/>
<rect x="1363.1" y="368.0" width="15.9" height="8.0" rx="4.0" ry="4.0" fill="#a3a81e"/>
<rect x="1352.2" y="373.6" width="15.9" height="8.0" rx="4.0" ry="4.0" fill="#94a832"/>
<g stroke="#000" stroke-width="2" fill="none" stroke-linecap="butt">
<rect x="165.0" y="16.0" width="1336.2" height="1147.2"/>
<path d="M396.2 16.0v14M396.2 1163.2v-14M627.4 16.0v14M627.4 1163.2v-14M858.6 16.0v14M858.6 1163.2v-14M1089.8 16.0v14M1089.8 1163.2v-14M1321.0 16.0v14M1321.0 1163.2v-14M165.0 131.6h14M1501.2 131.6h-14M165.0 247.1h14M1501.2 247.1h-14M165.0 362.7h14M1501.2 362.7h-14M165.0 478.3h14M1501.2 478.3h-14M165.0 593.9h14M1501.2 593.9h-14M165.0 709.4h14M1501.2 709.4h-14M165.0 825.0h14M1501.2 825.0h-14M165.0 940.6h14M1501.2 940.6h-14M165.0 1056.1h14M1501.2 1056.1h-14"/>
</g>
<g shape-rendering="crispEdges">
<rect x="1536.0" y="16.00" width="70.0" height="9.58" fill="#e63000"/>
<rect x="1536.0" y="24.98" width="70.0" height="9.58" fill="#e63300"/>
<rect x="1536.0" y="33.95" width="70.0" height="9.58" fill="#e63700"/>
<rect x="1536.0" y="42.93" width="70.0" height="9.58" fill="#e63b00"/>
<rect x="1536.0" y="51.91" width="70.0" height="9.58" fill="#e63e00"/>
<rect x="1536.0" y="60.88" width="70.0" height="9.58" fill="#e64200"/>
<rect x="1536.0" y="69.86" width="70.0" height="9.58" fill="#e64500"/>
<rect x="1536.0" y="78.84" width="70.0" height="9.58" fill="#e64900"/>
<rect x="1536.0" y="87.81" width="70.0" height="9.58" fill="#e64d00"/>
<rect x="1536.0" y="96.79" width="70.0" height="9.58" fill="#e65000"/>
<rect x="1536.0" y="105.77" width="70.0" height="9.58" fill="#e65400"/>
<rect x="1536.0" y="114.74" width="70.0" height="9.58" fill="#e65700"/>
<rect x="1536.0" y="123.72" width="70.0" height="9.58" fill="#e65b00"/>
<rect x="1536.0" y="132.70" width="70.0" height="9.58" fill="#e65f00"/>
<rect x="1536.0" y="141.67" width="70.0" height="9.58" fill="#e66200"/>
<rect x="1536.0" y="150.65" width="70.0" height="9.58" fill="#e66600"/>
<rect x="1536.0" y="159.62" width="70.0" height="9.58" fill="#e56900"/>
<rect x="1536.0" y="168.60" width="70.0" height="9.58" fill="#e56d00"/>
<rect x="1536.0" y="177.58" width="70.0" height="9.58" fill="#e57000"/>
<rect x="1536.0" y="186.55" width="70.0" height="9.58" fill="#e57400"/>
<rect x="1536.0" y="195.53" width="70.0" height="9.58" fill="#e57800"/>
<rect x="1536.0" y="204.51" width="70.0" height="9.58" fill="#e57b00"/>
<rect x="1536.0" y="213.48" width="70.0" height="9.58" fill="#e57f00"/>
<rect x="1536.0" y="222.46" width="70.0" height="9.58" fill="#e58200"/>
<rect x="1536.0" y="231.44" width="70.0" height="9.58" fill="#e58600"/>
<rect x="1536.0" y="240.41" width="70.0" height="9.58" fill="#e58a00"/>
<rect x="1536.0" y="249.39" width="70.0" height="9.58" fill="#e58d00"/>
<rect x="1536.0" y="258.37" width="70.0" height="9.58" fill="#e59100"/>
<rect x="1536.0" y="267.34" width="70.0" height="9.58" fill="#e59400"/>
<rect x="1536.0" y="276.32" width="70.0" height="9.58" fill="#e59800"/>
<rect x="1536.0" y="285.30" width="70.0" height="9.58" fill="#e59c00"/>
<rect x="1536.0" y="294.27" width="70.0" height="9.58" fill="#e59f00"/>
<rect x="1536.0" y="303.25" width="70.0" height="9.58" fill="#e4a101"/>
<rect x="1536.0" y="312.23" width="70.0" height="9.58" fill="#e1a102"/>
<rect x="1536.0" y="321.20" width="70.0" height="9.58" fill="#dfa203"/>
<rect x="1536.0" y="330.18" width="70.0" height="9.58" fill="#dda205"/>
<rect x="1536.0" y="339.16" width="70.0" height="9.58" fill="#daa206"/>
<rect x="1536.0" y="348.13" width="70.0" height="9.58" fill="#d8a307"/>
<rect x="1536.0" y="357.11" width="70.0" height="9.58" fill="#d6a309"/>
<rect x="1536.0" y="366.09" width="70.0" height="9.58" fill="#d3a30a"/>
<rect x="1536.0" y="375.06" width="70.0" height="9.58" fill="#d1a40b"/>
<rect x="1536.0" y="384.04" width="70.0" height="9.58" fill="#cfa40d"/>
<rect x="1536.0" y="393.02" width="70.0" height="9.58" fill="#cca40e"/>
<rect x="1536.0" y="401.99" width="70.0" height="9.58" fill="#caa50f"/>
<rect x="1536.0" y="410.97" width="70.0" height="9.58" fill="#c8a511"/>
<rect x="1536.0" y="419.95" width="70.0" height="9.58" fill="#c5a512"/>
<rect x="1536.0" y="428.92" width="70.0" height="9.58" fill="#c3a613"/>
<rect x="1536.0" y="437.90" width="70.0" height="9.58" fill="#c1a615"/>
<rect x="1536.0" y="446.88" width="70.0" height="9.58" fill="#bea616"/>
<rect x="1536.0" y="455.85" width="70.0" height="9.58" fill="#bca618"/>
<rect x="1536.0" y="464.83" width="70.0" height="9.58" fill="#baa719"/>
<rect x="1536.0" y="473.80" width="70.0" height="9.58" fill="#b7a71a"/>
<rect x="1536.0" y="482.78" width="70.0" height="9.58" fill="#b5a71c"/>
<rect x="1536.0" y="491.76" width="70.0" height="9.58" fill="#b3a81d"/>
<rect x="1536.0" y="500.73" width="70.0" height="9.58" fill="#b0a81e"/>
<rect x="1536.0" y="509.71" width="70.0" height="9.58" fill="#aea820"/>
<rect x="1536.0" y="518.69" width="70.0" height="9.58" fill="#aca921"/>
<rect x="1536.0" y="527.66" width="70.0" height="9.58" fill="#a9a922"/>
<rect x="1536.0" y="536.64" width="70.0" height="9.58" fill="#a7a924"/>
<rect x="1536.0" y="545.62" width="70.0" height="9.58" fill="#a5aa25"/>
<rect x="1536.0" y="554.59" width="70.0" height="9.58" fill="#a2aa26"/>
<rect x="1536.0" y="563.57" width="70.0" height="9.58" fill="#a0aa28"/>
<rect x="1536.0" y="572.55" width="70.0" height="9.58" fill="#9eab29"/>
<rect x="1536.0" y="581.52" width="70.0" height="9.58" fill="#9bab2a"/>
<rect x="1536.0" y="590.50" width="70.0" height="9.58" fill="#98aa2d"/>
<rect x="1536.0" y="599.48" width="70.0" height="9.58" fill="#95a932"/>
<rect x="1536.0" y="608.45" width="70.0" height="9.58" fill="#92a837"/>
<rect x="1536.0" y="617.43" width="70.0" height="9.58" fill="#8ea73b"/>
<rect x="1536.0" y="626.41" width="70.0" height="9.58" fill="#8ba640"/>
<rect x="1536.0" y="635.38" width="70.0" height="9.58" fill="#87a545"/>
<rect x="1536.0" y="644.36" width="70.0" height="9.58" fill="#84a349"/>
<rect x="1536.0" y="653.34" width="70.0" height="9.58" fill="#81a24e"/>
<rect x="1536.0" y="662.31" width="70.0" height="9.58" fill="#7da153"/>
<rect x="1536.0" y="671.29" width="70.0" height="9.58" fill="#7aa058"/>
<rect x="1536.0" y="680.27" width="70.0" height="9.58" fill="#779f5c"/>
<rect x="1536.0" y="689.24" width="70.0" height="9.58" fill="#739e61"/>
<rect x="1536.0" y="698.22" width="70.0" height="9.58" fill="#709d66"/>
<rect x="1536.0" y="707.20" width="70.0" height="9.58" fill="#6c9b6a"/>
<rect x="1536.0" y="716.17" width="70.0" height="9.58" fill="#699a6f"/>
<rect x="1536.0" y="725.15" width="70.0" height="9.58" fill="#669974"/>
<rect x="1536.0" y="734.12" width="70.0" height="9.58" fill="#629878"/>
<rect x="1536.0" y="743.10" width="70.0" height="9.58" fill="#5f977d"/>
<rect x="1536.0" y="752.08" width="70.0" height="9.58" fill="#5c9682"/>
<rect x="1536.0" y="761.05" width="70.0" height="9.58" fill="#589486"/>
<rect x="1536.0" y="770.03" width="70.0" height="9.58" fill="#55938b"/>
<rect x="1536.0" y="779.01" width="70.0" height="9.58" fill="#519290"/>
<rect x="1536.0" y="787.98" width="70.0" height="9.58" fill="#4e9194"/>
<rect x="1536.0" y="796.96" width="70.0" height="9.58" fill="#4b9099"/>
<rect x="1536.0" y="805.94" width="70.0" height="9.58" fill="#478f9e"/>
<rect x="1536.0" y="814.91" width="70.0" height="9.58" fill="#448ea3"/>
<rect x="1536.0" y="823.89" width="70.0" height="9.58" fill="#418ca7"/>
<rect x="1536.0" y="832.87" width="70.0" height="9.58" fill="#3d8bac"/>
<rect x="1536.0" y="841.84" width="70.0" height="9.58" fill="#3a8ab1"/>
<rect x="1536.0" y="850.82" width="70.0" height="9.58" fill="#3689b5"/>
<rect x="1536.0" y="859.80" width="70.0" height="9.58" fill="#3388ba"/>
<rect x="1536.0" y="868.77" width="70.0" height="9.58" fill="#3087bf"/>
<rect x="1536.0" y="877.75" width="70.0" height="9.58" fill="#2d85bf"/>
<rect x="1536.0" y="886.73" width="70.0" height="9.58" fill="#2c82bb"/>
<rect x="1536.0" y="895.70" width="70.0" height="9.58" fill="#2a80b7"/>
<rect x="1536.0" y="904.68" width="70.0" height="9.58" fill="#297eb3"/>
<rect x="1536.0" y="913.66" width="70.0" height="9.58" fill="#287baf"/>
<rect x="1536.0" y="922.63" width="70.0" height="9.58" fill="#2679aa"/>
<rect x="1536.0" y="931.61" width="70.0" height="9.58" fill="#2577a6"/>
<rect x="1536.0" y="940.59" width="70.0" height="9.58" fill="#2374a2"/>
<rect x="1536.0" y="949.56" width="70.0" height="9.58" fill="#22729e"/>
<rect x="1536.0" y="958.54" width="70.0" height="9.58" fill="#206f9a"/>
<rect x="1536.0" y="967.52" width="70.0" height="9.58" fill="#1f6d96"/>
<rect x="1536.0" y="976.49" width="70.0" height="9.58" fill="#1d6b92"/>
<rect x="1536.0" y="985.47" width="70.0" height="9.58" fill="#1c688e"/>
<rect x="1536.0" y="994.45" width="70.0" height="9.58" fill="#1b668a"/>
<rect x="1536.0" y="1003.42" width="70.0" height="9.58" fill="#196486"/>
<rect x="1536.0" y="1012.40" width="70.0" height="9.58" fill="#186182"/>
<rect x="1536.0" y="1021.38" width="70.0" height="9.58" fill="#165f7d"/>
<rect x="1536.0" y="1030.35" width="70.0" height="9.58" fill="#155c79"/>
<rect x="1536.0" y="1039.33" width="70.0" height="9.58" fill="#135a75"/>
<rect x="1536.0" y="1048.30" width="70.0" height="9.58" fill="#125871"/>
<rect x="1536.0" y="1057.28" width="70.0" height="9.58" fill="#11556d"/>
<rect x="1536.0" y="1066.26" width="70.0" height="9.58" fill="#0f5369"/>
<rect x="1536.0" y="1075.23" width="70.0" height="9.58" fill="#0e5165"/>
<rect x="1536.0" y="1084.21" width="70.0" height="9.58" fill="#0c4e61"/>
<rect x="1536.0" y="1093.19" width="70.0" height="9.58" fill="#0b4c5d"/>
<rect x="1536.0" y="1102.16" width="70.0" height="9.58" fill="#094959"/>
<rect x="1536.0" y="1111.14" width="70.0" height="9.58" fill="#084755"/>
<rect x="1536.0" y="1120.12" width="70.0" height="9.58" fill="#064550"/>
<rect x="1536.0" y="1129.09" width="70.0" height="9.58" fill="#05424c"/>
<rect x="1536.0" y="1138.07" width="70.0" height="9.58" fill="#044048"/>
<rect x="1536.0" y="1147.05" width="70.0" height="9.58" fill="#023e44"/>
<rect x="1536.0" y="1156.02" width="70.0" height="9.58" fill="#013b40"/>
</g>
<g stroke="#000" stroke-width="2" fill="none">
<rect x="1536.0" y="16.0" width="70.0" height="1149.0"/>
<path d="M1606.0 1023.0h-12.5M1606.0 879.2h-12.5M1606.0 735.3h-12.5M1606.0 591.5h-12.5M1606.0 447.7h-12.5M1606.0 303.8h-12.5M1606.0 160.0h-12.5"/>
</g>
<text transform="translate(164.5 1229.5) scale(0.945 1)" font-size="52.0" text-anchor="middle">0</text>
<text transform="translate(395.7 1229.5) scale(0.945 1)" font-size="52.0" text-anchor="middle">200</text>
<text transform="translate(626.9 1229.5) scale(0.945 1)" font-size="52.0" text-anchor="middle">400</text>
<text transform="translate(858.1 1229.5) scale(0.945 1)" font-size="52.0" text-anchor="middle">600</text>
<text transform="translate(1089.3 1229.5) scale(0.945 1)" font-size="52.0" text-anchor="middle">800</text>
<text transform="translate(1320.5 1229.5) scale(0.945 1)" font-size="52.0" text-anchor="middle">1000</text><g transform="translate(1320.5 1229.5) scale(0.945 1)"><rect x="-54.97" y="-4.68" width="9.96" height="5.72" fill="#fff"/><rect x="-40.13" y="-4.68" width="9.33" height="5.72" fill="#fff"/></g>
<text transform="translate(146.0 36.5) scale(0.945 1)" font-size="52.0" text-anchor="end">0</text>
<text transform="translate(146.0 152.1) scale(0.945 1)" font-size="52.0" text-anchor="end">100</text><g transform="translate(146.0 152.1) scale(0.945 1)"><rect x="-83.89" y="-4.68" width="9.96" height="5.72" fill="#fff"/><rect x="-69.05" y="-4.68" width="9.33" height="5.72" fill="#fff"/></g>
<text transform="translate(146.0 267.6) scale(0.945 1)" font-size="52.0" text-anchor="end">200</text>
<text transform="translate(146.0 383.2) scale(0.945 1)" font-size="52.0" text-anchor="end">300</text>
<text transform="translate(146.0 498.8) scale(0.945 1)" font-size="52.0" text-anchor="end">400</text>
<text transform="translate(146.0 614.4) scale(0.945 1)" font-size="52.0" text-anchor="end">500</text>
<text transform="translate(146.0 729.9) scale(0.945 1)" font-size="52.0" text-anchor="end">600</text>
<text transform="translate(146.0 845.5) scale(0.945 1)" font-size="52.0" text-anchor="end">700</text>
<text transform="translate(146.0 961.1) scale(0.945 1)" font-size="52.0" text-anchor="end">800</text>
<text transform="translate(146.0 1076.6) scale(0.945 1)" font-size="52.0" text-anchor="end">900</text>
<text transform="translate(1621.0 1040.0) scale(0.945 1)" font-size="44.0" text-anchor="start">-300</text>
<text transform="translate(1621.0 896.2) scale(0.945 1)" font-size="44.0" text-anchor="start">-200</text>
<text transform="translate(1621.0 752.3) scale(0.945 1)" font-size="44.0" text-anchor="start">-100</text><g transform="translate(1621.0 752.3) scale(0.945 1)"><rect x="17.07" y="-3.96" width="8.43" height="4.84" fill="#fff"/><rect x="29.63" y="-3.96" width="7.90" height="4.84" fill="#fff"/></g>
<text transform="translate(1621.0 608.5) scale(0.945 1)" font-size="44.0" text-anchor="start">0</text>
<text transform="translate(1621.0 464.7) scale(0.945 1)" font-size="44.0" text-anchor="start">100</text><g transform="translate(1621.0 464.7) scale(0.945 1)"><rect x="2.42" y="-3.96" width="8.43" height="4.84" fill="#fff"/><rect x="14.98" y="-3.96" width="7.90" height="4.84" fill="#fff"/></g>
<text transform="translate(1621.0 320.8) scale(0.945 1)" font-size="44.0" text-anchor="start">200</text>
<text transform="translate(1621.0 177.0) scale(0.945 1)" font-size="44.0" text-anchor="start">300</text>
<text transform="translate(1621.0 33.2) scale(0.945 1)" font-size="44.0" text-anchor="start">400</text>
<text transform="translate(824.2 1295.0) scale(0.990 1)" font-size="54.0" text-anchor="middle">Number of columns/reactions</text>
<text transform="translate(837.5 1361.5) scale(0.990 1)" font-size="54.0" text-anchor="middle">(4959 nonzero elements)</text>
<text transform="translate(42.5 597.5) rotate(-90) scale(0.990 1)" font-size="54.0" text-anchor="middle">Number of rows/metabolites</text>
</svg></body></html>
